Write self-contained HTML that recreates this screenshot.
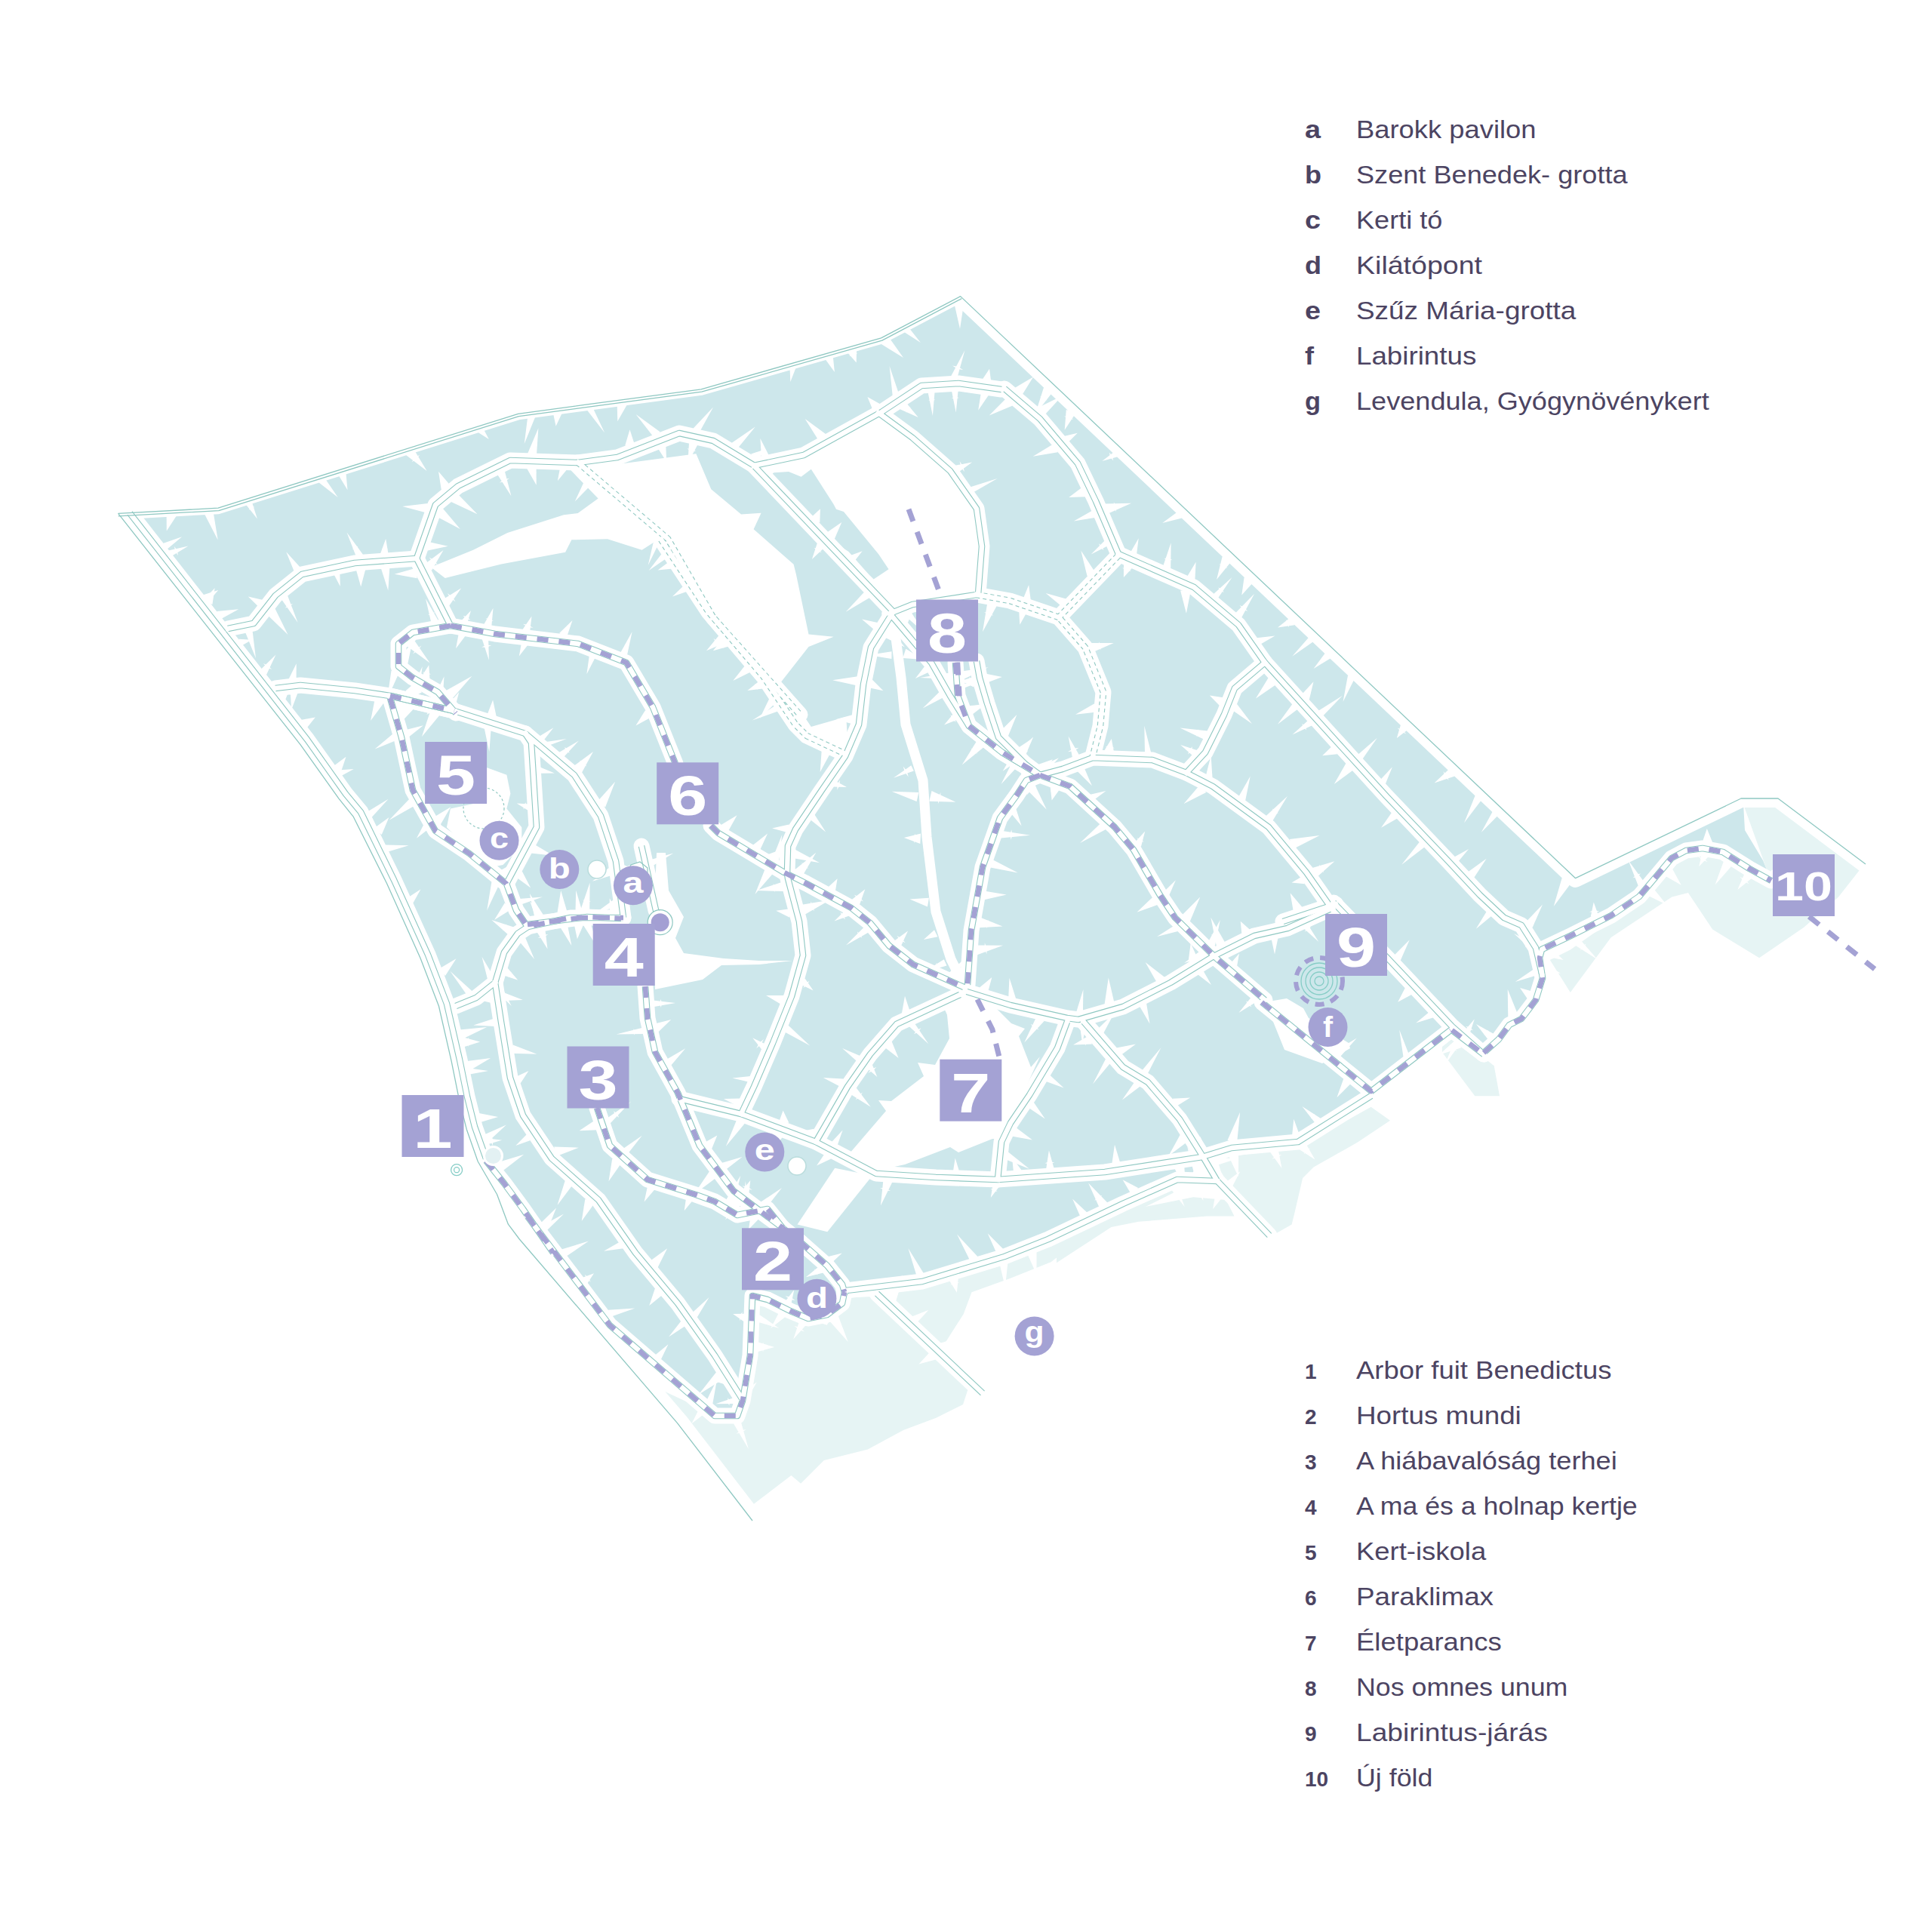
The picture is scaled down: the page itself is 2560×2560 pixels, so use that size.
<!DOCTYPE html><html><head><meta charset="utf-8"><style>html,body{margin:0;padding:0;background:#fff;}svg{display:block}</style></head><body><svg xmlns="http://www.w3.org/2000/svg" width="2560" height="2560" viewBox="0 0 2560 2560">
<rect width="2560" height="2560" fill="#fff"/>
<polygon points="878.1,1842.6 994.0,1996.6 1048.4,1954.9 1061.1,1965.8 1091.9,1935.0 1149.9,1920.5 1197.0,1895.1 1240.4,1878.8 1280.3,1858.9 1290.0,1848.0 1158.0,1718.0 1120.9,1719.4 1095.5,1755.7 1062.9,1744.8 1012.2,1726.7 1001.3,1715.8 997.7,1835.4 983.2,1871.6 954.2,1878.8 932.5,1868.0" fill="#e6f4f4"/>
<polygon points="1175.2,1715.8 1236.8,1777.4 1251.3,1781.0 1276.7,1741.2 1287.5,1712.2 1338.3,1694.1 1392.6,1672.3 1425.2,1647.0 1472.3,1621.6 1560.0,1578.1 1560.0,1560.0 1400.0,1626.0 1300.0,1662.0 1220.0,1692.0" fill="#e6f4f4"/>
<polygon points="1613.8,1535.5 1726.1,1517.4 1816.7,1466.7 1842.0,1484.8 1798.6,1513.8 1740.6,1546.4 1726.1,1560.9 1715.2,1608.0 1711.6,1622.5 1686.2,1637.0 1624.6,1575.4 1613.8,1539.0" fill="#e6f4f4"/>
<polygon points="1400.0,1629.7 1472.5,1608.0 1581.2,1586.2 1624.6,1589.9 1635.5,1611.6 1599.3,1611.6 1508.7,1618.8 1472.5,1626.1 1400.0,1673.2" fill="#e6f4f4"/>
<polygon points="1910.9,1387.0 1929.0,1372.5 1979.7,1412.3 1987.0,1452.2 1954.3,1452.2 1932.6,1423.2 1910.9,1394.2" fill="#e6f4f4"/>
<polygon points="2309.6,1064.6 2363.4,1060.6 2457.6,1140.0 2465.7,1150.7 2436.1,1188.4 2390.3,1228.8 2331.1,1269.2 2269.2,1231.5 2236.9,1183.0 2215.3,1188.4 2134.6,1242.3 2080.8,1314.9 2053.8,1271.9 2080.8,1258.4 2172.3,1193.8 2215.3,1140.0 2255.7,1129.2 2282.6,1131.9 2323.0,1156.1 2347.2,1169.6" fill="#e6f4f4"/>
<polygon points="156.6,680.4 289.1,673.2 686.6,548.3 780.0,535.7 929.0,515.8 1167.6,447.9 1272.6,392.6 2088.8,1164.7 2309.6,1057.1 2312.0,1100.0 2336.0,1140.0 2347.0,1167.0 2317.6,1150.7 2282.6,1129.2 2255.7,1123.8 2234.2,1126.5 2215.3,1137.3 2193.8,1161.5 2172.3,1188.4 2134.6,1212.7 2080.8,1239.6 2043.1,1258.4 2040.4,1269.2 2044.4,1296.1 2037.7,1331.1 2000.0,1358.0 1965.2,1390.6 1925.4,1361.6 1816.7,1448.6 1720.0,1513.0 1632.0,1521.0 1593.0,1531.0 1613.0,1565.5 1560.0,1563.0 1488.0,1595.0 1389.0,1642.0 1331.0,1665.0 1222.0,1698.0 1121.0,1710.0 1116.1,1726.7 1096.3,1741.6 1071.4,1746.6 1046.6,1736.6 1016.8,1721.7 996.9,1716.8 994.4,1796.3 984.5,1855.9 977.0,1875.8 947.2,1875.8 808.1,1756.5 698.8,1612.4 668.4,1567.6 643.6,1537.8 633.2,1539.0 618.2,1496.2 608.1,1455.7 598.1,1405.9 581.4,1333.0 557.0,1269.5 512.5,1170.5 468.0,1081.8 448.9,1058.1 398.0,986.7" fill="#cde7eb"/>
<polygon points="998.0,617.0 1064.9,602.6 1167.6,545.6 1209.1,579.5 1258.8,624.2 1293.5,673.9 1301.0,723.6 1296.0,788.2 1217.0,792.3 1184.1,810.6" fill="#fff"/>
<polygon points="780.0,620.2 922.4,601.3 942.3,648.3 982.1,681.4 1008.6,679.8 998.6,701.3 1051.6,747.7 1054.9,761.0 1071.5,840.5 1104.6,843.8 1071.5,857.0 1035.1,903.4 1074.8,963.0 1121.2,949.8 1124.5,1002.8 1071.5,976.3 1011.9,896.8 939.0,810.6 876.1,714.6 780.0,625.1" fill="#fff"/>
<polygon points="571.0,751.5 627.0,728.7 672.5,706.0 747.0,682.2 765.7,680.0 792.6,660.4 755.3,622.1 766.0,614.0 817.0,607.0 890.0,700.0 865.0,719.4 850.6,728.7 805.0,714.2 757.4,715.3 749.1,731.8 664.2,747.4 589.7,766.0" fill="#fff"/>
<polygon points="1267.0,1321.0 1295.0,1323.0 1320.0,1336.0 1340.0,1356.0 1358.0,1363.0 1350.0,1373.0 1366.0,1414.0 1378.0,1400.0 1328.0,1509.0 1315.0,1509.0 1270.0,1527.0 1259.0,1520.0 1199.0,1543.0 1153.0,1553.0 1126.0,1528.0 1174.0,1472.0 1164.0,1458.0 1181.0,1459.0 1224.0,1426.0 1216.0,1408.0 1239.0,1411.0 1258.0,1376.0 1255.0,1345.0" fill="#fff"/>
<polygon points="1056.5,1622.4 1106.2,1547.8 1155.9,1557.8 1096.3,1632.3" fill="#fff"/>
<polygon points="868.0,1311.0 931.0,1298.0 956.0,1279.0 1006.0,1278.0 1050.0,1273.0 1006.0,1273.0 959.0,1270.0 906.0,1263.0 895.0,1243.0 906.0,1215.0 886.0,1180.0 882.0,1130.0 870.0,1130.0 866.0,1230.0" fill="#fff"/>
<polygon points="644.1,1016.8 671.4,1026.7 676.4,1051.6 671.4,1071.4 691.3,1096.3 691.3,1121.1 666.5,1146.0 641.6,1150.9 616.8,1121.1 591.9,1096.3 596.9,1071.4 644.1,1061.5" fill="#fff"/>
<polygon points="1681.0,1327.0 1705.0,1323.0 1727.0,1336.0 1734.0,1349.0 1787.0,1382.0 1789.0,1389.0 1772.0,1399.0 1752.0,1409.0 1702.0,1391.0 1677.0,1329.0" fill="#fff"/>
<polygon points="1018.5,626.8 1045.0,625.1 1061.6,631.8 1074.8,621.8 1104.6,668.2 1108.0,674.8 1117.9,678.1 1164.3,734.5 1177.5,754.3 1157.6,767.6 1151.0,761.0 1124.5,731.1 1104.6,717.9 1051.6,658.3 1031.8,645.0" fill="#cde7eb"/>
<path d="M156.6,680.4 L289.1,673.2 L686.6,548.3 L780.0,535.7 L929.0,515.8 L1167.6,447.9 L1272.6,392.6" fill="none" stroke="#fff" stroke-width="16" stroke-linejoin="round"/>
<path d="M1272.6,392.6 L2087.6,1163.7 L2307.0,1058.0 L2356.0,1058.0 L2472.0,1145.0" fill="none" stroke="#fff" stroke-width="24" stroke-linejoin="round"/>
<path d="M156.6,680.4 L398.0,986.7 L448.9,1058.1 L468.0,1081.8 L512.5,1170.5 L557.0,1269.5 L581.4,1333.0 L598.1,1405.9 L608.1,1455.7 L618.2,1496.2 L633.2,1539.0 L658.5,1582.5 L673.4,1622.2 L688.3,1642.0 L897.5,1885.7 L997.0,2015.0" fill="none" stroke="#fff" stroke-width="30" stroke-linejoin="round"/>
<g fill="#fff"><polygon points="200.6,730.8 208.0,739.2 177.0,758.8"/><polygon points="220.1,728.7 215.3,720.3 241.1,711.2"/><polygon points="235.2,772.1 238.7,781.3 206.1,788.3"/><polygon points="224.7,781.3 227.5,780.2 224.3,775.9"/><polygon points="224.7,781.3 227.5,780.2 227.9,785.6"/><polygon points="258.4,804.9 265.5,812.4 235.5,833.5"/><polygon points="281.4,801.1 269.3,795.2 284.6,779.3"/><polygon points="283.6,837.2 291.7,845.8 274.8,853.7"/><polygon points="333.1,897.7 337.1,906.3 318.0,909.9"/><polygon points="327.7,905.4 330.5,904.1 327.3,900.9"/><polygon points="327.7,905.4 330.5,904.1 330.9,908.6"/><polygon points="352.8,894.6 344.1,888.4 365.5,867.5"/><polygon points="355.3,881.9 353.5,884.3 360.1,887.1"/><polygon points="355.3,881.9 353.5,884.3 348.8,879.1"/><polygon points="378.2,926.9 370.3,921.9 388.1,902.3"/><polygon points="379.9,915.4 378.3,917.9 385.8,920.9"/><polygon points="379.9,915.4 378.3,917.9 372.4,912.5"/><polygon points="385.2,967.2 392.1,973.4 363.8,998.1"/><polygon points="405.6,965.8 398.4,953.9 417.8,950.4"/><polygon points="408.8,955.8 406.3,957.3 410.1,960.9"/><polygon points="408.8,955.8 406.3,957.3 405.0,952.2"/><polygon points="414.7,1006.7 420.6,1012.8 401.1,1025.9"/><polygon points="410.8,1016.4 412.9,1014.4 407.5,1010.9"/><polygon points="410.8,1016.4 412.9,1014.4 416.3,1019.9"/><polygon points="430.7,1029.6 439.9,1039.8 415.3,1052.6"/><polygon points="450.5,1029.1 447.9,1020.6 468.8,1019.1"/><polygon points="452.3,1060.6 462.2,1068.1 444.8,1080.7"/><polygon points="473.4,1081.8 474.5,1092.3 443.7,1090.4"/><polygon points="461.9,1088.4 464.8,1088.1 462.9,1084.1"/><polygon points="461.9,1088.4 464.8,1088.1 463.8,1092.4"/><polygon points="492.3,1083.3 486.2,1075.9 514.6,1058.7"/><polygon points="492.2,1126.9 499.5,1136.8 479.6,1143.9"/><polygon points="489.0,1137.0 491.4,1135.2 487.2,1132.2"/><polygon points="489.0,1137.0 491.4,1135.2 493.1,1140.0"/><polygon points="511.8,1129.2 510.5,1119.6 541.6,1120.2"/><polygon points="547.4,1196.6 539.9,1189.7 557.5,1178.3"/><polygon points="571.5,1293.3 570.7,1305.4 539.4,1297.3"/><polygon points="595.7,1380.6 596.0,1388.7 556.8,1386.4"/><polygon points="612.5,1387.9 612.3,1373.9 636.1,1380.4"/><polygon points="622.2,1380.7 619.2,1380.8 620.8,1386.9"/><polygon points="622.2,1380.7 619.2,1380.8 620.6,1374.5"/><polygon points="603.7,1409.9 601.8,1422.0 569.5,1410.6"/><polygon points="621.6,1418.9 617.2,1406.2 650.1,1401.9"/><polygon points="608.8,1438.1 608.1,1449.5 571.8,1441.6"/><polygon points="617.4,1479.4 619.2,1491.1 600.6,1487.9"/><polygon points="635.0,1487.4 634.6,1474.9 660.1,1480.1"/><polygon points="627.3,1508.0 627.8,1520.5 609.6,1514.9"/><polygon points="619.8,1514.5 622.8,1514.4 621.0,1508.1"/><polygon points="619.8,1514.5 622.8,1514.4 621.5,1520.9"/><polygon points="646.6,1513.1 640.5,1503.9 670.9,1490.4"/><polygon points="324.8,837.3 334.4,834.7 339.0,872.2"/><polygon points="353.7,814.2 364.5,806.4 381.5,840.9"/><polygon points="348.4,795.0 343.1,804.6 328.8,790.6"/><polygon points="372.2,792.9 380.8,788.4 394.6,825.0"/><polygon points="383.5,804.0 382.1,801.4 377.7,805.4"/><polygon points="383.5,804.0 382.1,801.4 388.0,800.0"/><polygon points="398.3,752.2 389.9,757.5 379.2,731.3"/><polygon points="442.3,760.8 450.3,758.7 450.8,777.0"/><polygon points="471.6,754.0 484.4,753.9 478.2,777.4"/><polygon points="478.1,763.6 478.1,760.6 473.5,762.2"/><polygon points="478.1,763.6 478.1,760.6 482.6,762.1"/><polygon points="480.9,734.7 472.6,739.2 459.5,705.5"/><polygon points="470.0,724.6 471.5,727.3 474.4,723.9"/><polygon points="470.0,724.6 471.5,727.3 467.1,728.0"/><polygon points="504.6,752.3 516.4,750.8 514.3,782.4"/><polygon points="514.7,735.1 503.9,734.1 511.2,713.9"/><polygon points="510.1,725.9 509.8,728.9 514.0,727.7"/><polygon points="510.1,725.9 509.8,728.9 505.9,727.0"/><polygon points="566.8,729.5 566.8,717.7 593.7,723.8"/><polygon points="578.2,684.3 586.8,673.7 609.8,701.1"/><polygon points="566.9,666.9 566.0,679.8 533.2,670.9"/><polygon points="597.8,665.0 605.8,653.7 632.5,681.2"/><polygon points="597.0,643.5 584.8,649.1 581.0,624.8"/><polygon points="658.5,627.8 668.6,623.4 677.4,657.2"/><polygon points="669.0,638.0 667.8,635.3 661.8,639.6"/><polygon points="669.0,638.0 667.8,635.3 675.0,633.7"/><polygon points="698.3,621.1 710.6,617.8 710.7,642.7"/><polygon points="707.0,629.0 706.2,626.1 702.2,628.8"/><polygon points="707.0,629.0 706.2,626.1 711.1,626.4"/><polygon points="710.9,603.9 699.1,601.1 713.4,567.3"/><polygon points="742.3,618.9 750.7,622.8 738.8,637.2"/><polygon points="785.7,618.1 798.8,618.0 792.5,646.6"/><polygon points="841.3,590.3 828.2,590.4 834.5,569.3"/><polygon points="871.6,593.8 882.3,590.4 883.2,612.0"/><polygon points="874.6,572.3 866.9,580.3 842.6,548.9"/><polygon points="913.1,585.3 924.8,588.6 911.4,613.7"/><polygon points="915.9,597.7 916.7,594.8 910.4,594.6"/><polygon points="915.9,597.7 916.7,594.8 922.2,597.9"/><polygon points="926.5,573.2 918.7,567.5 945.1,539.5"/><polygon points="976.7,595.0 969.4,587.0 1000.8,565.6"/><polygon points="1002.9,611.8 995.2,601.6 1014.3,595.2"/><polygon points="1005.6,601.8 1003.2,603.6 1007.3,606.5"/><polygon points="1005.6,601.8 1003.2,603.6 1001.5,598.9"/><polygon points="1019.0,603.8 1008.9,606.5 1007.4,581.0"/><polygon points="1091.8,597.0 1103.9,592.1 1108.5,621.2"/><polygon points="1094.3,575.3 1084.9,584.0 1066.7,554.9"/><polygon points="1165.1,559.3 1174.7,550.1 1197.4,583.7"/><polygon points="1180.5,565.9 1178.5,563.7 1175.9,568.2"/><polygon points="1180.5,565.9 1178.5,563.7 1183.1,561.4"/><polygon points="1166.5,535.5 1156.8,544.1 1149.5,526.0"/><polygon points="1192.6,542.3 1200.0,532.7 1216.7,553.1"/><polygon points="1204.6,543.9 1202.2,542.0 1200.5,546.8"/><polygon points="1204.6,543.9 1202.2,542.0 1206.3,539.1"/><polygon points="1191.2,522.4 1182.7,524.2 1178.6,485.0"/><polygon points="1229.4,519.0 1238.6,518.5 1235.9,551.1"/><polygon points="1234.8,531.6 1234.6,528.6 1230.3,530.3"/><polygon points="1234.8,531.6 1234.6,528.6 1239.1,529.8"/><polygon points="1260.8,517.0 1269.7,516.6 1266.7,546.4"/><polygon points="1265.8,528.7 1265.7,525.7 1260.9,527.4"/><polygon points="1265.8,528.7 1265.7,525.7 1270.6,526.9"/><polygon points="1268.2,501.4 1260.2,498.2 1278.4,464.3"/><polygon points="1269.7,486.0 1268.6,488.8 1276.4,490.3"/><polygon points="1269.7,486.0 1268.6,488.8 1261.9,484.5"/><polygon points="1300.0,519.5 1310.0,523.5 1296.2,543.7"/><polygon points="1313.3,506.1 1301.4,503.3 1311.1,488.8"/><polygon points="1334.3,526.7 1341.7,537.6 1310.7,550.6"/><polygon points="1353.9,524.1 1344.2,514.2 1369.1,499.5"/><polygon points="1383.6,550.4 1375.8,540.1 1407.4,524.4"/><polygon points="1397.1,587.4 1401.5,599.2 1368.7,604.8"/><polygon points="1414.7,586.7 1409.8,577.9 1427.8,573.7"/><polygon points="1434.5,645.3 1439.0,658.2 1416.3,658.9"/><polygon points="1448.3,676.1 1451.8,685.8 1422.9,690.6"/><polygon points="1467.2,681.0 1464.1,667.5 1499.1,666.7"/><polygon points="1478.8,671.3 1475.9,671.9 1478.8,677.9"/><polygon points="1478.8,671.3 1475.9,671.9 1475.9,665.3"/><polygon points="1464.1,716.1 1468.9,722.8 1445.7,734.4"/><polygon points="1458.0,725.5 1460.4,723.8 1456.0,720.2"/><polygon points="1458.0,725.5 1460.4,723.8 1462.4,729.1"/><polygon points="551.9,752.4 552.6,766.3 522.7,760.8"/><polygon points="572.1,755.8 562.7,747.5 587.5,728.9"/><polygon points="575.4,742.6 573.5,744.8 580.2,748.8"/><polygon points="575.4,742.6 573.5,744.8 568.6,738.6"/><polygon points="595.1,802.7 587.1,794.3 611.2,779.2"/><polygon points="599.2,790.7 597.1,792.8 603.5,797.3"/><polygon points="599.2,790.7 597.1,792.8 592.7,786.1"/><polygon points="580.7,822.3 571.6,825.9 564.0,793.2"/><polygon points="571.3,811.9 572.4,814.7 576.5,811.5"/><polygon points="571.3,811.9 572.4,814.7 567.3,815.1"/><polygon points="539.1,855.9 548.1,847.2 569.6,878.6"/><polygon points="553.7,862.1 551.6,859.9 547.0,866.5"/><polygon points="553.7,862.1 551.6,859.9 558.4,855.5"/><polygon points="518.5,888.8 528.6,891.8 513.0,926.5"/><polygon points="540.2,879.9 527.9,874.1 546.2,851.1"/><polygon points="552.1,908.0 558.9,917.4 526.5,933.3"/><polygon points="544.1,920.8 546.6,919.0 541.6,914.6"/><polygon points="544.1,920.8 546.6,919.0 549.1,925.2"/><polygon points="569.4,899.4 558.6,896.6 568.3,881.3"/><polygon points="565.9,890.7 565.1,893.6 571.1,893.6"/><polygon points="565.9,890.7 565.1,893.6 559.9,890.7"/><polygon points="577.7,927.7 585.5,936.1 565.2,947.1"/><polygon points="598.8,926.2 590.2,915.5 625.5,895.7"/><polygon points="608.0,838.6 616.7,842.4 604.1,859.3"/><polygon points="619.1,825.9 611.9,821.7 624.0,809.1"/><polygon points="619.2,817.4 617.7,820.0 623.4,821.5"/><polygon points="619.2,817.4 617.7,820.0 613.5,815.8"/><polygon points="638.8,846.9 647.1,845.5 647.9,874.8"/><polygon points="644.9,857.7 644.4,854.7 638.1,857.4"/><polygon points="644.9,857.7 644.4,854.7 651.3,855.0"/><polygon points="651.2,831.1 640.8,827.9 653.5,805.7"/><polygon points="649.1,819.7 648.2,822.6 653.8,822.8"/><polygon points="649.1,819.7 648.2,822.6 643.5,819.6"/><polygon points="691.1,851.4 699.1,855.0 687.8,869.4"/><polygon points="702.0,838.2 692.2,834.4 704.5,816.5"/><polygon points="700.2,828.0 699.2,830.8 706.5,831.9"/><polygon points="700.2,828.0 699.2,830.8 692.9,826.8"/><polygon points="750.7,845.1 741.1,839.1 758.5,821.9"/><polygon points="780.9,868.2 789.0,870.8 777.4,893.2"/><polygon points="830.8,869.1 821.7,865.7 837.6,837.0"/><polygon points="855.1,941.1 863.5,950.1 842.4,961.6"/><polygon points="384.8,916.8 394.5,918.3 386.1,940.6"/><polygon points="392.6,901.9 382.7,899.5 392.7,879.3"/><polygon points="496.8,925.9 508.8,931.1 491.1,955.0"/><polygon points="541.1,935.0 547.9,939.4 532.2,956.3"/><polygon points="554.1,922.4 542.7,918.9 559.7,883.1"/><polygon points="603.6,934.8 596.1,930.8 608.3,916.9"/><polygon points="641.8,965.3 650.7,964.8 648.3,996.2"/><polygon points="657.7,949.3 645.1,948.3 653.1,927.6"/><polygon points="533.5,933.7 543.9,938.0 528.2,961.6"/><polygon points="548.0,923.0 537.3,915.6 557.3,898.0"/><polygon points="570.5,941.5 582.2,947.9 558.9,976.2"/><polygon points="586.4,929.7 574.0,926.5 588.5,896.2"/><polygon points="713.8,992.8 711.8,984.7 750.9,979.0"/><polygon points="714.0,1024.7 715.6,1016.5 734.8,1024.4"/><polygon points="702.1,1065.5 699.5,1073.7 684.7,1064.5"/><polygon points="693.8,1067.3 696.6,1068.3 696.7,1063.2"/><polygon points="693.8,1067.3 696.6,1068.3 693.7,1072.4"/><polygon points="692.9,1112.7 688.0,1120.3 672.5,1104.9"/><polygon points="682.9,1111.6 685.4,1113.2 686.7,1108.5"/><polygon points="682.9,1111.6 685.4,1113.2 681.6,1116.4"/><polygon points="703.4,1130.6 707.5,1118.4 733.1,1133.7"/><polygon points="683.2,1161.8 691.8,1154.5 703.2,1176.5"/><polygon points="719.8,981.8 714.5,975.7 733.4,964.3"/><polygon points="745.9,1004.2 740.3,997.2 766.9,981.6"/><polygon points="752.6,993.1 750.2,994.9 754.7,998.1"/><polygon points="752.6,993.1 750.2,994.9 748.1,989.9"/><polygon points="770.7,1024.2 760.2,1015.1 786.0,996.1"/><polygon points="773.7,1010.3 771.7,1012.5 777.3,1015.4"/><polygon points="773.7,1010.3 771.7,1012.5 768.0,1007.4"/><polygon points="802.1,1069.6 791.0,1062.8 815.1,1035.7"/><polygon points="806.7,1150.0 811.8,1159.5 785.0,1167.8"/><polygon points="824.9,1158.7 827.3,1146.2 849.0,1156.8"/><polygon points="812.6,1192.5 817.1,1200.6 783.4,1213.8"/><polygon points="833.8,1198.8 829.6,1189.9 864.2,1179.0"/><polygon points="532.0,941.8 526.7,932.4 555.0,922.5"/><polygon points="539.6,931.2 537.0,932.7 542.3,938.9"/><polygon points="539.6,931.2 537.0,932.7 534.4,925.0"/><polygon points="520.5,972.5 525.6,980.8 496.7,992.6"/><polygon points="541.7,976.5 537.1,967.3 560.9,961.2"/><polygon points="542.6,1058.4 549.6,1067.4 515.6,1086.7"/><polygon points="561.2,1093.1 567.7,1098.6 552.0,1110.8"/><polygon points="583.9,1092.2 574.6,1083.1 597.3,1069.3"/><polygon points="651.4,1168.5 661.5,1171.7 645.2,1206.5"/><polygon points="670.3,1161.0 664.1,1152.8 695.7,1135.4"/><polygon points="668.7,1196.5 677.3,1205.1 655.0,1219.0"/><polygon points="689.8,1198.8 688.1,1190.9 718.9,1188.4"/><polygon points="720.3,1212.9 710.9,1218.8 702.3,1194.6"/><polygon points="760.6,1223.9 773.2,1225.1 764.9,1244.2"/><polygon points="771.3,1206.9 762.5,1208.1 763.2,1179.7"/><polygon points="806.1,1224.4 819.1,1224.6 812.1,1257.7"/><polygon points="812.4,1237.6 812.4,1234.6 804.6,1236.0"/><polygon points="812.4,1237.6 812.4,1234.6 820.2,1236.2"/><polygon points="817.1,1206.2 808.0,1208.8 807.7,1190.2"/><polygon points="625.8,1313.4 619.2,1319.2 596.4,1286.8"/><polygon points="656.7,1312.0 664.5,1306.4 677.7,1333.1"/><polygon points="654.1,1294.3 646.0,1297.6 638.5,1267.7"/><polygon points="666.1,1292.0 672.4,1282.6 686.3,1298.7"/><polygon points="676.5,1292.1 674.0,1290.4 672.9,1294.7"/><polygon points="676.5,1292.1 674.0,1290.4 677.5,1287.8"/><polygon points="687.3,1246.5 695.7,1241.4 708.1,1271.0"/><polygon points="680.8,1228.5 674.5,1239.6 651.4,1219.1"/><polygon points="667.2,1228.1 669.8,1229.5 670.9,1224.6"/><polygon points="667.2,1228.1 669.8,1229.5 666.1,1233.0"/><polygon points="651.1,1317.9 650.3,1328.8 616.8,1320.7"/><polygon points="666.6,1326.0 668.4,1315.6 692.9,1325.1"/><polygon points="654.9,1349.6 656.2,1360.1 627.2,1358.6"/><polygon points="677.3,1395.8 679.6,1384.5 711.4,1396.8"/><polygon points="689.6,1435.4 682.6,1427.3 700.4,1418.9"/><polygon points="699.0,1502.1 704.3,1510.4 683.3,1517.9"/><polygon points="736.4,1532.6 734.2,1519.6 766.8,1520.7"/><polygon points="748.9,1564.1 759.1,1569.4 738.5,1596.9"/><polygon points="775.3,1588.7 788.0,1593.9 770.7,1618.1"/><polygon points="777.3,1602.0 778.4,1599.3 773.2,1598.8"/><polygon points="777.3,1602.0 778.4,1599.3 782.4,1602.5"/><polygon points="822.7,1644.7 825.9,1654.3 800.1,1657.7"/><polygon points="871.3,1679.9 860.9,1671.2 884.1,1654.2"/><polygon points="868.0,1707.1 879.0,1714.8 860.3,1729.9"/><polygon points="903.0,1749.7 909.1,1756.3 886.0,1771.6"/><polygon points="923.4,1746.1 916.4,1740.3 939.6,1719.0"/><polygon points="949.4,1817.7 958.2,1827.5 925.8,1847.8"/><polygon points="973.9,1851.5 975.4,1859.9 948.3,1860.2"/><polygon points="964.0,1857.5 966.9,1857.0 964.6,1852.1"/><polygon points="964.0,1857.5 966.9,1857.0 966.3,1862.4"/><polygon points="992.5,1849.8 985.5,1843.5 1002.7,1831.5"/><polygon points="846.4,1142.1 847.8,1151.8 825.8,1149.9"/><polygon points="865.4,1147.1 861.9,1139.3 892.3,1130.4"/><polygon points="854.6,1180.0 856.2,1188.1 827.2,1189.6"/><polygon points="964.0,1103.1 954.2,1093.7 976.6,1080.2"/><polygon points="1006.5,1127.6 997.1,1120.2 1017.1,1104.5"/><polygon points="1013.9,1150.9 1024.3,1157.2 1000.4,1185.1"/><polygon points="1032.2,1140.5 1023.5,1138.3 1036.3,1105.8"/><polygon points="1063.4,1160.4 1053.7,1152.1 1081.3,1129.8"/><polygon points="1067.5,1145.9 1065.5,1148.2 1071.0,1150.9"/><polygon points="1067.5,1145.9 1065.5,1148.2 1062.0,1143.1"/><polygon points="1106.7,1181.8 1096.5,1176.3 1109.6,1164.2"/><polygon points="1120.3,1205.9 1125.1,1213.4 1105.5,1220.4"/><polygon points="1115.4,1214.2 1117.9,1212.6 1113.5,1208.4"/><polygon points="1115.4,1214.2 1117.9,1212.6 1119.9,1218.5"/><polygon points="1138.5,1200.1 1128.1,1192.6 1146.3,1178.2"/><polygon points="1138.7,1188.8 1137.0,1191.2 1144.1,1194.5"/><polygon points="1138.7,1188.8 1137.0,1191.2 1131.7,1185.6"/><polygon points="1145.9,1227.4 1151.6,1234.9 1121.0,1252.5"/><polygon points="1137.8,1239.5 1140.2,1237.7 1135.8,1234.5"/><polygon points="1137.8,1239.5 1140.2,1237.7 1142.2,1242.8"/><polygon points="1193.4,1254.4 1184.5,1247.1 1203.1,1233.5"/><polygon points="1194.9,1243.6 1193.0,1245.9 1199.6,1249.3"/><polygon points="1194.9,1243.6 1193.0,1245.9 1188.3,1240.1"/><polygon points="1264.0,1294.2 1257.7,1288.7 1283.8,1265.2"/><polygon points="1021.6,629.9 1016.8,621.8 1033.7,617.1"/><polygon points="1086.3,692.5 1073.6,686.7 1086.9,674.3"/><polygon points="1083.0,719.3 1092.5,725.4 1075.9,741.0"/><polygon points="1082.8,730.2 1084.4,727.6 1078.7,725.8"/><polygon points="1082.8,730.2 1084.4,727.6 1088.6,732.0"/><polygon points="1105.4,715.0 1094.7,706.2 1115.3,692.0"/><polygon points="1131.5,744.5 1125.6,736.4 1142.6,730.3"/><polygon points="1146.3,783.2 1153.1,791.5 1120.7,810.8"/><polygon points="1165.6,778.6 1158.5,772.6 1184.5,749.1"/><polygon points="1169.3,559.4 1175.2,567.8 1155.1,575.6"/><polygon points="1165.0,568.7 1167.5,566.9 1162.4,562.3"/><polygon points="1165.0,568.7 1167.5,566.9 1170.2,573.3"/><polygon points="1269.6,626.1 1265.5,616.8 1288.1,612.4"/><polygon points="1276.1,617.7 1273.4,618.9 1277.9,625.3"/><polygon points="1276.1,617.7 1273.4,618.9 1271.6,611.2"/><polygon points="1288.6,652.9 1285.3,645.4 1321.6,634.1"/><polygon points="1291.9,719.9 1292.8,730.9 1258.0,728.1"/><polygon points="1278.8,726.5 1281.8,726.2 1279.9,720.8"/><polygon points="1278.8,726.5 1281.8,726.2 1280.8,731.9"/><polygon points="1199.0,815.8 1206.3,809.6 1224.1,837.7"/><polygon points="1200.0,793.8 1192.6,800.0 1182.9,780.9"/><polygon points="1224.1,807.8 1233.2,805.4 1237.9,842.2"/><polygon points="1232.3,820.5 1231.5,817.6 1226.7,820.4"/><polygon points="1232.3,820.5 1231.5,817.6 1237.1,817.7"/><polygon points="1308.4,798.3 1320.9,802.5 1302.0,837.2"/><polygon points="1309.7,814.7 1310.7,811.9 1304.0,811.2"/><polygon points="1309.7,814.7 1310.7,811.9 1316.4,815.4"/><polygon points="1350.2,809.6 1360.2,812.0 1351.3,827.8"/><polygon points="1365.8,795.4 1355.5,794.0 1363.2,775.1"/><polygon points="1415.0,817.0 1406.8,811.2 1421.5,799.3"/><polygon points="1448.4,864.0 1445.9,852.0 1475.8,852.1"/><polygon points="1458.7,855.6 1455.7,856.2 1458.3,861.4"/><polygon points="1458.7,855.6 1455.7,856.2 1456.1,850.5"/><polygon points="1449.8,932.6 1453.4,943.6 1425.0,946.7"/><polygon points="1412.6,793.5 1407.1,803.8 1385.7,786.0"/><polygon points="1451.4,758.8 1440.6,763.5 1432.3,729.4"/><polygon points="1163.9,825.2 1159.0,835.0 1142.0,820.4"/><polygon points="1171.8,844.2 1179.9,834.0 1198.9,857.4"/><polygon points="1136.5,896.3 1136.1,908.5 1103.1,901.3"/><polygon points="1150.1,911.0 1155.7,900.6 1170.4,915.2"/><polygon points="1130.2,946.9 1130.2,959.4 1107.4,953.3"/><polygon points="1104.1,1042.6 1106.3,1034.4 1122.1,1043.1"/><polygon points="1112.5,1040.5 1109.6,1039.7 1109.3,1046.7"/><polygon points="1112.5,1040.5 1109.6,1039.7 1112.9,1033.5"/><polygon points="1072.4,1084.9 1079.1,1078.9 1094.2,1102.4"/><polygon points="1045.3,1092.5 1045.0,1103.5 1023.0,1097.4"/><polygon points="1034.2,1126.1 1036.2,1135.9 1002.7,1137.4"/><polygon points="1050.3,1136.9 1054.1,1126.1 1086.1,1143.3"/><polygon points="1037.1,1168.4 1039.0,1181.1 1002.5,1180.0"/><polygon points="1024.1,1176.8 1027.1,1176.3 1024.8,1171.1"/><polygon points="1024.1,1176.8 1027.1,1176.3 1026.4,1182.0"/><polygon points="1056.4,1173.9 1052.5,1166.9 1072.4,1160.6"/><polygon points="1048.3,1203.9 1046.3,1215.8 1028.3,1206.7"/><polygon points="1066.1,1212.1 1061.3,1199.0 1099.8,1192.4"/><polygon points="1077.8,1200.4 1074.9,1201.4 1078.7,1207.4"/><polygon points="1077.8,1200.4 1074.9,1201.4 1074.0,1194.5"/><polygon points="1060.1,1303.9 1066.6,1296.4 1077.6,1312.5"/><polygon points="1069.5,1305.5 1067.2,1303.5 1064.3,1309.1"/><polygon points="1069.5,1305.5 1067.2,1303.5 1072.4,1299.8"/><polygon points="1039.4,1319.1 1036.0,1331.4 1015.1,1319.0"/><polygon points="1038.1,1366.6 1044.1,1358.2 1073.2,1385.4"/><polygon points="1015.2,1383.9 1009.6,1391.0 997.2,1375.2"/><polygon points="1005.9,1382.2 1008.2,1384.1 1011.9,1377.1"/><polygon points="1005.9,1382.2 1008.2,1384.1 1002.2,1389.2"/><polygon points="994.3,1426.0 993.8,1434.1 970.3,1428.5"/><polygon points="981.0,1455.6 978.4,1466.2 958.9,1455.9"/><polygon points="1181.5,863.3 1181.4,873.0 1150.5,867.9"/><polygon points="1196.3,872.1 1200.3,859.7 1223.6,874.1"/><polygon points="1207.3,1014.3 1210.9,1021.5 1183.9,1030.8"/><polygon points="1198.9,1023.1 1201.6,1021.7 1196.7,1015.4"/><polygon points="1198.9,1023.1 1201.6,1021.7 1203.8,1029.4"/><polygon points="1217.3,1050.0 1214.6,1062.1 1181.7,1048.7"/><polygon points="1231.3,1061.7 1234.5,1048.1 1266.4,1062.7"/><polygon points="1246.1,1058.0 1243.2,1057.3 1242.9,1065.2"/><polygon points="1246.1,1058.0 1243.2,1057.3 1246.4,1050.1"/><polygon points="1220.1,1104.6 1219.3,1118.0 1197.8,1109.9"/><polygon points="1210.5,1110.7 1213.5,1110.9 1212.4,1104.5"/><polygon points="1210.5,1110.7 1213.5,1110.9 1211.6,1117.1"/><polygon points="1230.9,1189.7 1229.0,1201.4 1205.5,1191.6"/><polygon points="1238.0,1232.3 1242.5,1241.3 1223.9,1245.0"/><polygon points="1250.8,1271.2 1254.5,1279.5 1223.2,1288.6"/><polygon points="1241.0,1280.6 1243.7,1279.4 1240.5,1275.8"/><polygon points="1241.0,1280.6 1243.7,1279.4 1244.2,1284.2"/><polygon points="1202.9,825.2 1193.7,820.0 1217.9,788.1"/><polygon points="1218.9,848.4 1214.2,840.0 1234.2,834.2"/><polygon points="1225.7,882.2 1232.0,890.1 1212.9,898.9"/><polygon points="1245.3,916.2 1250.8,923.7 1222.6,938.4"/><polygon points="1263.9,916.9 1261.7,906.1 1293.3,905.5"/><polygon points="1284.1,948.0 1279.6,936.9 1306.7,932.3"/><polygon points="1339.4,1013.4 1346.1,1018.1 1326.6,1039.1"/><polygon points="1357.0,1005.1 1346.0,997.2 1369.2,976.6"/><polygon points="1358.5,991.4 1356.8,993.8 1362.4,996.0"/><polygon points="1358.5,991.4 1356.8,993.8 1352.9,989.1"/><polygon points="1367.0,1028.7 1376.0,1037.3 1355.4,1050.1"/><polygon points="1384.7,1023.8 1375.7,1013.1 1394.8,1006.2"/><polygon points="1258.4,891.5 1258.9,899.9 1218.9,898.0"/><polygon points="1277.2,899.7 1274.1,889.4 1309.5,884.3"/><polygon points="1265.9,942.4 1272.9,952.0 1251.1,960.6"/><polygon points="1261.8,952.8 1264.2,951.0 1259.3,946.9"/><polygon points="1261.8,952.8 1264.2,951.0 1266.6,956.9"/><polygon points="1287.6,947.2 1283.0,935.3 1305.6,933.4"/><polygon points="1294.7,981.0 1304.3,989.4 1274.7,1013.6"/><polygon points="1289.8,996.3 1291.8,994.0 1286.7,991.6"/><polygon points="1289.8,996.3 1291.8,994.0 1294.9,998.7"/><polygon points="1291.3,896.6 1290.3,910.5 1273.1,902.2"/><polygon points="1283.1,903.0 1286.1,903.2 1285.1,896.6"/><polygon points="1283.1,903.0 1286.1,903.2 1284.1,909.6"/><polygon points="1307.6,904.8 1306.6,892.8 1327.8,897.1"/><polygon points="1335.6,975.9 1325.4,969.1 1347.4,947.1"/><polygon points="1337.2,962.4 1335.6,964.9 1340.2,966.1"/><polygon points="1337.2,962.4 1335.6,964.9 1332.7,961.1"/><polygon points="1338.6,1004.8 1344.9,1010.8 1328.7,1021.7"/><polygon points="1359.3,1000.0 1348.3,991.5 1366.4,979.4"/><polygon points="1367.6,1030.6 1376.7,1035.8 1360.5,1053.6"/><polygon points="1367.3,1041.6 1368.8,1039.0 1362.4,1037.1"/><polygon points="1367.3,1041.6 1368.8,1039.0 1373.7,1043.6"/><polygon points="1385.5,1023.9 1379.1,1015.3 1403.0,1004.2"/><polygon points="776.1,633.5 785.6,640.1 761.7,664.6"/><polygon points="803.3,657.6 815.3,664.3 796.4,684.2"/><polygon points="804.1,670.4 805.6,667.8 798.9,665.8"/><polygon points="804.1,670.4 805.6,667.8 810.8,672.4"/><polygon points="824.3,650.0 816.4,646.0 832.2,625.0"/><polygon points="861.7,681.9 850.6,674.9 875.2,648.2"/><polygon points="867.3,712.1 875.4,715.0 858.7,748.9"/><polygon points="891.7,740.6 896.5,753.0 871.5,755.6"/><polygon points="909.1,773.1 914.8,782.3 890.9,790.6"/><polygon points="929.5,775.5 923.8,762.9 962.4,752.9"/><polygon points="955.4,818.3 947.5,806.7 978.7,794.1"/><polygon points="962.2,805.2 959.7,806.9 964.2,810.9"/><polygon points="962.2,805.2 959.7,806.9 957.7,801.2"/><polygon points="958.7,844.6 966.4,856.2 944.9,862.2"/><polygon points="955.1,855.4 957.6,853.7 953.3,850.0"/><polygon points="955.1,855.4 957.6,853.7 959.4,859.1"/><polygon points="1014.5,879.9 1003.9,874.6 1018.2,859.4"/><polygon points="1022.3,919.5 1032.3,926.7 1006.7,952.0"/><polygon points="877.0,733.5 883.1,739.8 859.6,756.1"/><polygon points="913.1,754.5 906.6,747.7 934.8,727.1"/><polygon points="953.6,840.8 961.5,851.2 936.0,862.3"/><polygon points="948.8,852.6 951.2,850.8 945.5,845.8"/><polygon points="948.8,852.6 951.2,850.8 954.5,857.6"/><polygon points="987.6,881.2 995.0,890.3 971.3,902.0"/><polygon points="1007.4,877.9 1001.1,871.6 1015.8,863.3"/><polygon points="1006.5,902.1 1010.8,912.4 990.4,914.9"/><polygon points="1000.9,910.5 1003.6,909.4 1000.5,905.8"/><polygon points="1000.9,910.5 1003.6,909.4 1004.0,914.0"/><polygon points="1027.6,934.7 1031.3,942.2 996.8,954.6"/><polygon points="1088.7,994.7 1100.2,998.0 1086.7,1023.0"/><polygon points="1107.6,984.2 1095.8,977.7 1115.1,956.4"/><polygon points="1489.0,746.7 1501.2,751.4 1488.9,765.1"/><polygon points="1492.4,756.1 1493.5,753.3 1487.2,752.4"/><polygon points="1492.4,756.1 1493.5,753.3 1498.6,756.9"/><polygon points="1506.0,734.9 1497.9,732.1 1508.7,713.3"/><polygon points="1551.2,753.7 1540.5,751.9 1551.6,719.3"/><polygon points="1548.1,739.6 1547.6,742.6 1553.4,742.0"/><polygon points="1548.1,739.6 1547.6,742.6 1542.3,740.1"/><polygon points="1564.1,782.6 1577.9,782.2 1571.9,812.7"/><polygon points="1583.4,768.6 1572.3,765.2 1584.6,744.7"/><polygon points="1613.3,793.4 1607.0,788.0 1632.5,765.0"/><polygon points="1619.0,780.6 1617.0,782.8 1621.7,785.0"/><polygon points="1619.0,780.6 1617.0,782.8 1614.2,778.4"/><polygon points="1644.5,819.4 1636.1,813.2 1662.1,786.8"/><polygon points="1648.8,804.8 1647.0,807.2 1653.3,810.0"/><polygon points="1648.8,804.8 1647.0,807.2 1642.5,802.0"/><polygon points="1668.3,854.7 1665.2,845.3 1689.5,842.6"/><polygon points="1681.2,897.2 1691.3,906.7 1664.0,925.4"/><polygon points="1713.1,931.9 1720.4,939.1 1692.9,959.7"/><polygon points="1734.8,927.0 1723.9,921.2 1740.5,903.2"/><polygon points="1734.0,915.4 1732.6,918.1 1737.2,918.8"/><polygon points="1734.0,915.4 1732.6,918.1 1729.3,914.7"/><polygon points="1734.2,953.7 1739.1,961.0 1712.4,973.5"/><polygon points="1726.9,963.8 1729.4,962.2 1725.3,958.7"/><polygon points="1726.9,963.8 1729.4,962.2 1731.1,967.4"/><polygon points="1752.2,949.5 1746.3,942.3 1778.8,921.8"/><polygon points="1766.6,987.3 1772.1,999.3 1752.2,1001.3"/><polygon points="1784.0,1010.5 1794.2,1019.5 1767.8,1039.1"/><polygon points="1804.9,1006.4 1798.4,1000.7 1824.8,977.7"/><polygon points="1835.7,1039.1 1828.1,1034.3 1844.9,1016.2"/><polygon points="1844.9,1075.4 1852.6,1083.8 1830.1,1096.8"/><polygon points="1881.8,1114.5 1888.8,1121.6 1857.2,1145.8"/><polygon points="1931.5,1142.4 1926.2,1135.9 1946.1,1125.1"/><polygon points="1952.5,1164.0 1944.3,1156.1 1969.6,1137.7"/><polygon points="1970.4,1206.7 1977.5,1212.8 1955.8,1230.7"/><polygon points="2030.6,1228.9 2021.1,1222.5 2044.0,1198.4"/><polygon points="1622.5,924.6 1616.7,935.8 1602.8,921.5"/><polygon points="1631.8,940.2 1638.9,932.8 1658.9,959.0"/><polygon points="1600.4,968.6 1597.0,980.5 1563.5,964.6"/><polygon points="1585.0,970.7 1587.8,971.5 1587.8,966.3"/><polygon points="1585.0,970.7 1587.8,971.5 1585.0,975.9"/><polygon points="1586.5,994.3 1581.7,1002.5 1564.2,986.9"/><polygon points="1575.8,993.6 1578.4,995.1 1580.1,989.2"/><polygon points="1575.8,993.6 1578.4,995.1 1574.2,999.5"/><polygon points="1393.3,1030.7 1401.6,1030.6 1397.7,1052.8"/><polygon points="1427.6,1022.0 1436.1,1016.3 1447.0,1041.3"/><polygon points="1430.6,1001.5 1421.2,1005.0 1415.6,975.5"/><polygon points="1421.8,992.1 1422.8,994.9 1429.6,990.8"/><polygon points="1421.8,992.1 1422.8,994.9 1415.0,996.2"/><polygon points="1476.2,997.5 1463.0,995.1 1472.8,978.9"/><polygon points="1471.0,988.7 1470.5,991.7 1476.9,991.3"/><polygon points="1471.0,988.7 1470.5,991.7 1464.6,989.1"/><polygon points="1525.3,997.7 1517.0,998.8 1516.3,961.7"/><polygon points="1590.1,1039.8 1598.2,1050.1 1568.6,1064.9"/><polygon points="1606.5,1030.3 1597.4,1029.4 1604.6,1001.3"/><polygon points="1650.1,1061.1 1640.2,1057.5 1656.7,1028.5"/><polygon points="1685.5,1089.1 1676.6,1081.9 1705.9,1055.0"/><polygon points="1690.7,1073.7 1688.8,1076.0 1693.8,1078.1"/><polygon points="1690.7,1073.7 1688.8,1076.0 1685.7,1071.5"/><polygon points="1712.9,1125.2 1708.9,1112.1 1748.6,1107.0"/><polygon points="1726.4,1160.7 1728.8,1171.3 1711.5,1169.6"/><polygon points="1744.9,1162.2 1738.2,1150.3 1768.4,1141.3"/><polygon points="1752.2,1150.3 1749.6,1151.7 1753.9,1156.3"/><polygon points="1752.2,1150.3 1749.6,1151.7 1748.0,1145.7"/><polygon points="1746.3,1197.4 1757.6,1204.1 1742.4,1216.8"/><polygon points="1804.4,1243.5 1807.9,1253.3 1772.2,1260.5"/><polygon points="1855.4,1273.3 1846.2,1267.0 1867.8,1245.3"/><polygon points="1862.5,1307.7 1872.1,1317.0 1852.2,1327.8"/><polygon points="1861.0,1318.8 1863.1,1316.7 1858.7,1314.5"/><polygon points="1861.0,1318.8 1863.1,1316.7 1865.3,1321.0"/><polygon points="1895.0,1339.9 1899.5,1348.2 1876.2,1355.6"/><polygon points="1928.3,1376.4 1936.3,1380.8 1914.5,1411.1"/><polygon points="1925.3,1391.3 1926.8,1388.7 1921.5,1387.5"/><polygon points="1925.3,1391.3 1926.8,1388.7 1930.6,1392.5"/><polygon points="1721.6,1224.7 1728.9,1218.6 1747.3,1248.0"/><polygon points="1733.9,1232.0 1732.0,1229.7 1728.6,1234.5"/><polygon points="1733.9,1232.0 1732.0,1229.7 1737.3,1227.2"/><polygon points="1726.1,1202.7 1713.9,1208.3 1709.6,1183.2"/><polygon points="1391.6,1041.9 1404.6,1045.3 1393.7,1060.6"/><polygon points="1396.2,1051.0 1397.0,1048.1 1391.9,1048.4"/><polygon points="1396.2,1051.0 1397.0,1048.1 1401.2,1050.8"/><polygon points="1407.7,1031.2 1400.5,1024.2 1430.9,1000.2"/><polygon points="1448.5,1060.7 1444.8,1052.7 1465.4,1048.1"/><polygon points="1459.4,1090.0 1465.7,1098.7 1431.1,1117.0"/><polygon points="1512.0,1121.8 1503.1,1117.0 1517.2,1101.4"/><polygon points="1511.6,1111.8 1510.2,1114.4 1515.6,1115.6"/><polygon points="1511.6,1111.8 1510.2,1114.4 1506.3,1110.6"/><polygon points="1528.3,1187.9 1534.9,1198.6 1506.4,1208.8"/><polygon points="1549.2,1186.2 1542.3,1181.4 1557.9,1166.3"/><polygon points="1557.1,1225.7 1560.7,1233.9 1533.2,1241.0"/><polygon points="1576.5,1221.5 1565.1,1213.8 1590.3,1188.6"/><polygon points="1591.0,1259.4 1595.3,1267.5 1569.1,1276.0"/><polygon points="1610.0,1253.1 1600.2,1249.5 1616.8,1219.0"/><polygon points="1609.7,1238.6 1608.7,1241.4 1613.5,1241.6"/><polygon points="1609.7,1238.6 1608.7,1241.4 1604.8,1238.4"/><polygon points="1639.0,1280.4 1630.6,1276.4 1642.0,1263.6"/><polygon points="1658.7,1320.5 1664.7,1327.4 1641.4,1341.9"/><polygon points="1653.5,1331.2 1655.7,1329.3 1651.2,1326.3"/><polygon points="1653.5,1331.2 1655.7,1329.3 1658.1,1334.2"/><polygon points="1363.4,1023.1 1353.7,1027.7 1346.1,999.3"/><polygon points="1359.4,1045.0 1370.1,1037.5 1386.8,1072.8"/><polygon points="1338.6,1076.6 1346.5,1072.2 1353.6,1094.5"/><polygon points="1326.2,1110.4 1326.6,1100.7 1365.1,1106.8"/><polygon points="1341.4,1106.0 1338.5,1105.9 1339.7,1112.7"/><polygon points="1341.4,1106.0 1338.5,1105.9 1340.2,1099.2"/><polygon points="1311.0,1149.2 1314.6,1138.7 1348.8,1156.6"/><polygon points="1304.1,1192.3 1303.8,1180.5 1333.7,1185.5"/><polygon points="1296.4,1229.2 1298.6,1215.6 1328.5,1227.4"/><polygon points="1309.9,1224.4 1306.9,1223.9 1307.4,1229.9"/><polygon points="1309.9,1224.4 1306.9,1223.9 1309.3,1218.5"/><polygon points="1294.8,1265.2 1292.6,1252.6 1329.1,1252.8"/><polygon points="1307.6,1256.5 1304.6,1257.0 1307.4,1264.3"/><polygon points="1307.6,1256.5 1304.6,1257.0 1304.8,1249.3"/><polygon points="1293.4,1324.3 1303.3,1332.3 1278.0,1353.6"/><polygon points="1308.8,1315.5 1298.0,1308.6 1314.3,1295.0"/><polygon points="1346.1,1323.1 1336.1,1324.4 1337.5,1295.7"/><polygon points="1373.7,1346.4 1383.6,1353.0 1357.2,1381.5"/><polygon points="1370.3,1362.1 1372.0,1359.6 1365.6,1357.1"/><polygon points="1370.3,1362.1 1372.0,1359.6 1376.7,1364.6"/><polygon points="1430.7,1357.8 1439.8,1358.3 1434.0,1381.5"/><polygon points="1434.9,1342.4 1426.2,1341.0 1435.4,1311.1"/><polygon points="1476.8,1330.0 1463.6,1330.5 1468.8,1295.5"/><polygon points="1509.2,1332.0 1518.9,1328.6 1523.5,1356.5"/><polygon points="1543.1,1294.8 1533.5,1303.0 1517.6,1275.0"/><polygon points="1586.8,1290.9 1593.7,1284.9 1605.0,1304.9"/><polygon points="1588.0,1272.4 1574.6,1274.4 1577.7,1249.7"/><polygon points="1624.0,1250.3 1612.1,1254.7 1604.4,1215.8"/><polygon points="1657.2,1232.8 1645.5,1238.8 1643.7,1220.8"/><polygon points="1684.3,1242.6 1693.5,1242.6 1689.0,1264.6"/><polygon points="1251.0,1336.1 1261.9,1333.1 1265.5,1367.7"/><polygon points="1206.2,1341.4 1195.0,1342.2 1199.0,1319.8"/><polygon points="1204.6,1359.9 1210.9,1354.4 1230.3,1383.2"/><polygon points="1216.7,1367.4 1214.7,1365.1 1211.0,1370.3"/><polygon points="1216.7,1367.4 1214.7,1365.1 1220.4,1362.2"/><polygon points="1171.3,1387.0 1181.4,1379.4 1190.6,1402.1"/><polygon points="1140.7,1399.5 1136.0,1406.8 1116.1,1388.9"/><polygon points="1148.8,1415.3 1155.7,1410.5 1162.3,1427.1"/><polygon points="1156.6,1419.1 1154.9,1416.6 1150.2,1421.7"/><polygon points="1156.6,1419.1 1154.9,1416.6 1161.3,1414.0"/><polygon points="1117.6,1429.6 1114.5,1440.6 1090.8,1428.0"/><polygon points="1126.0,1449.2 1133.9,1440.5 1153.8,1466.8"/><polygon points="1139.4,1453.5 1137.2,1451.5 1133.7,1457.6"/><polygon points="1139.4,1453.5 1137.2,1451.5 1142.9,1447.5"/><polygon points="1078.6,1495.7 1077.7,1506.0 1060.5,1499.3"/><polygon points="1384.8,1432.6 1390.2,1423.7 1409.6,1441.6"/><polygon points="1362.1,1467.2 1369.3,1460.0 1384.7,1482.5"/><polygon points="1329.0,1487.1 1326.1,1497.2 1297.8,1483.6"/><polygon points="1340.3,1505.6 1345.5,1493.4 1368.0,1510.4"/><polygon points="1331.1,1535.7 1336.3,1526.8 1363.8,1548.8"/><polygon points="1443.6,1371.8 1447.0,1383.6 1422.1,1384.4"/><polygon points="1435.7,1380.5 1438.6,1379.6 1435.6,1374.6"/><polygon points="1435.7,1380.5 1438.6,1379.6 1438.7,1385.5"/><polygon points="1461.9,1369.4 1454.4,1363.8 1476.5,1341.9"/><polygon points="1465.4,1402.6 1472.4,1407.2 1448.0,1436.5"/><polygon points="1484.0,1399.1 1479.4,1388.5 1505.0,1383.6"/><polygon points="1504.2,1432.6 1511.1,1439.2 1486.9,1457.4"/><polygon points="1520.2,1423.8 1512.8,1418.9 1538.4,1388.2"/><polygon points="1557.3,1466.7 1553.9,1455.8 1577.1,1454.5"/><polygon points="1563.7,1503.8 1573.8,1512.5 1548.4,1531.6"/><polygon points="1589.4,1542.4 1596.0,1552.0 1576.6,1558.3"/><polygon points="1608.0,1545.4 1606.7,1531.8 1636.9,1536.0"/><polygon points="1611.1,1578.6 1622.2,1583.6 1607.1,1602.2"/><polygon points="1632.8,1572.6 1625.0,1566.1 1643.4,1552.0"/><polygon points="1666.0,1635.5 1677.7,1641.8 1660.8,1659.4"/><polygon points="710.6,1233.4 722.1,1229.4 725.5,1257.5"/><polygon points="720.1,1241.9 719.1,1239.1 712.7,1242.9"/><polygon points="720.1,1241.9 719.1,1239.1 726.4,1238.1"/><polygon points="719.9,1212.2 708.6,1216.8 701.8,1184.0"/><polygon points="742.7,1229.3 751.9,1225.6 757.4,1252.9"/><polygon points="752.1,1210.2 738.2,1211.0 743.2,1180.0"/><polygon points="744.4,1198.4 744.6,1201.4 749.3,1199.6"/><polygon points="744.4,1198.4 744.6,1201.4 739.6,1200.2"/><polygon points="772.8,1225.8 781.9,1221.5 794.0,1259.1"/><polygon points="781.2,1207.8 769.3,1205.8 781.6,1169.4"/><polygon points="777.7,1192.2 777.2,1195.2 782.8,1194.6"/><polygon points="777.7,1192.2 777.2,1195.2 772.1,1192.8"/><polygon points="865.3,1334.2 865.0,1325.6 895.1,1328.9"/><polygon points="877.1,1329.5 874.1,1329.6 875.8,1334.9"/><polygon points="877.1,1329.5 874.1,1329.6 875.5,1324.1"/><polygon points="852.5,1361.6 853.6,1369.9 816.6,1370.4"/><polygon points="838.8,1367.6 841.8,1367.2 839.8,1363.3"/><polygon points="838.8,1367.6 841.8,1367.2 840.8,1371.4"/><polygon points="872.5,1367.3 866.7,1356.8 889.3,1351.1"/><polygon points="888.9,1412.1 882.4,1404.3 908.2,1389.3"/><polygon points="942.9,1522.8 933.1,1514.2 950.3,1504.4"/><polygon points="940.3,1551.7 949.4,1560.3 919.2,1583.1"/><polygon points="960.9,1550.5 956.1,1541.1 983.4,1533.1"/><polygon points="973.1,1589.7 982.2,1596.2 961.0,1616.3"/><polygon points="992.4,1581.3 983.4,1577.5 994.3,1564.1"/><polygon points="990.8,1572.7 989.6,1575.4 996.8,1576.8"/><polygon points="990.8,1572.7 989.6,1575.4 983.5,1571.3"/><polygon points="995.1,1607.7 1007.0,1613.5 992.0,1629.1"/><polygon points="1014.9,1600.9 1007.6,1593.1 1036.0,1573.9"/><polygon points="787.8,1484.8 791.9,1497.3 767.6,1498.3"/><polygon points="808.6,1488.6 803.3,1482.5 836.2,1459.6"/><polygon points="817.7,1475.5 815.4,1477.5 820.2,1480.7"/><polygon points="817.7,1475.5 815.4,1477.5 812.9,1472.3"/><polygon points="811.2,1535.4 823.8,1540.5 806.5,1565.3"/><polygon points="832.0,1528.6 825.8,1522.1 850.7,1504.8"/><polygon points="858.2,1571.1 867.8,1575.8 853.6,1592.5"/><polygon points="909.1,1587.3 917.6,1591.1 906.7,1604.2"/><polygon points="971.7,1595.9 961.2,1591.6 981.3,1557.7"/><polygon points="972.2,1579.8 971.1,1582.5 977.7,1583.7"/><polygon points="972.2,1579.8 971.1,1582.5 965.6,1578.7"/><polygon points="991.9,1599.2 983.6,1599.2 987.9,1565.0"/><polygon points="987.8,1585.7 987.8,1588.7 995.0,1587.2"/><polygon points="987.8,1585.7 987.8,1588.7 980.6,1587.2"/><polygon points="976.9,1482.0 987.2,1488.2 961.8,1519.0"/><polygon points="1027.3,1502.1 1037.6,1505.8 1026.5,1520.3"/><polygon points="1045.4,1487.7 1031.5,1488.4 1037.6,1471.4"/><polygon points="1093.9,1527.1 1101.1,1535.4 1082.1,1544.6"/><polygon points="1109.3,1518.5 1101.5,1513.8 1116.6,1497.6"/><polygon points="1155.3,1539.9 1144.6,1539.3 1151.3,1519.1"/><polygon points="1170.5,1562.8 1182.4,1566.2 1166.9,1597.4"/><polygon points="1172.7,1577.4 1173.5,1574.6 1166.1,1574.0"/><polygon points="1172.7,1577.4 1173.5,1574.6 1180.1,1578.1"/><polygon points="1271.1,1552.2 1262.8,1552.8 1265.7,1534.4"/><polygon points="1315.6,1569.7 1323.5,1573.1 1312.8,1586.9"/><polygon points="1316.6,1578.2 1317.8,1575.5 1312.8,1574.9"/><polygon points="1316.6,1578.2 1317.8,1575.5 1321.5,1578.7"/><polygon points="1353.6,1550.6 1343.1,1554.6 1341.1,1533.9"/><polygon points="1396.9,1549.2 1386.0,1549.9 1389.9,1524.3"/><polygon points="1390.8,1539.2 1391.0,1542.2 1397.3,1540.3"/><polygon points="1390.8,1539.2 1391.0,1542.2 1384.4,1541.2"/><polygon points="1484.6,1541.7 1473.3,1542.5 1477.0,1516.7"/><polygon points="1556.2,1548.1 1569.2,1544.5 1571.5,1578.1"/><polygon points="1566.2,1558.9 1565.4,1556.0 1560.8,1558.8"/><polygon points="1566.2,1558.9 1565.4,1556.0 1570.7,1556.1"/><polygon points="1589.7,1541.1 1603.2,1540.5 1597.9,1573.6"/><polygon points="1597.0,1553.8 1596.9,1550.8 1591.4,1552.5"/><polygon points="1597.0,1553.8 1596.9,1550.8 1602.5,1552.1"/><polygon points="1598.4,1524.2 1584.6,1525.0 1590.4,1505.9"/><polygon points="1627.6,1530.8 1641.1,1527.9 1640.9,1559.2"/><polygon points="1639.1,1514.1 1626.5,1510.7 1643.1,1473.8"/><polygon points="1683.1,1526.7 1693.5,1522.1 1698.5,1548.0"/><polygon points="1692.5,1534.0 1691.3,1531.3 1685.3,1535.5"/><polygon points="1692.5,1534.0 1691.3,1531.3 1698.4,1529.8"/><polygon points="1721.9,1523.2 1730.3,1515.2 1742.4,1536.4"/><polygon points="1732.8,1526.3 1730.8,1524.2 1727.6,1529.2"/><polygon points="1732.8,1526.3 1730.8,1524.2 1736.0,1521.3"/><polygon points="1722.1,1504.2 1712.0,1505.4 1714.3,1482.7"/><polygon points="1750.5,1482.2 1743.7,1489.6 1725.4,1466.1"/><polygon points="1738.4,1478.0 1740.6,1480.0 1742.2,1476.0"/><polygon points="1738.4,1478.0 1740.6,1480.0 1736.8,1482.0"/><polygon points="664.8,1552.6 658.6,1540.5 694.2,1529.8"/><polygon points="723.7,1631.3 718.4,1624.1 747.1,1608.4"/><polygon points="720.5,1659.0 727.4,1664.7 704.1,1685.4"/><polygon points="716.0,1671.2 718.0,1668.9 712.7,1666.5"/><polygon points="716.0,1671.2 718.0,1668.9 721.3,1673.7"/><polygon points="725.6,1629.5 714.8,1622.3 737.1,1600.5"/><polygon points="748.8,1665.7 744.0,1655.4 780.0,1644.6"/><polygon points="758.5,1703.4 763.0,1711.9 726.0,1726.1"/><polygon points="777.7,1701.6 770.9,1693.2 787.0,1687.2"/><polygon points="779.9,1692.9 777.6,1694.8 782.7,1698.8"/><polygon points="779.9,1692.9 777.6,1694.8 774.7,1688.8"/><polygon points="790.8,1747.3 796.0,1754.3 779.4,1761.2"/><polygon points="808.0,1745.3 806.0,1735.8 841.3,1733.4"/><polygon points="811.3,1767.7 818.8,1778.9 793.8,1787.4"/><polygon points="834.8,1791.1 841.7,1795.6 816.2,1826.7"/><polygon points="855.3,1810.2 865.0,1814.3 852.6,1830.3"/><polygon points="875.3,1802.5 867.3,1796.3 885.5,1781.2"/><polygon points="925.4,1868.7 932.2,1874.3 916.5,1886.2"/><polygon points="944.3,1860.1 935.5,1857.2 950.0,1828.1"/><polygon points="972.1,1886.5 981.4,1882.5 991.9,1919.9"/><polygon points="982.6,1898.3 981.5,1895.5 975.5,1899.7"/><polygon points="982.6,1898.3 981.5,1895.5 988.6,1894.1"/><polygon points="980.0,1827.2 978.2,1839.9 941.9,1828.4"/><polygon points="964.6,1831.5 967.6,1831.9 966.7,1827.6"/><polygon points="964.6,1831.5 967.6,1831.9 965.5,1835.9"/><polygon points="1002.9,1791.4 1003.0,1777.9 1026.2,1785.0"/><polygon points="1012.6,1784.8 1009.6,1784.8 1011.0,1791.4"/><polygon points="1012.6,1784.8 1009.6,1784.8 1011.1,1778.2"/><polygon points="1002.3,1751.2 1006.5,1742.2 1032.3,1759.9"/><polygon points="989.0,1740.8 985.7,1751.3 971.2,1741.0"/><polygon points="980.3,1743.8 983.2,1744.7 983.6,1738.3"/><polygon points="980.3,1743.8 983.2,1744.7 979.9,1750.2"/><polygon points="991.8,1722.6 1001.3,1728.7 984.7,1744.1"/><polygon points="1032.8,1738.0 1040.8,1744.8 1021.3,1759.9"/><polygon points="1048.3,1728.0 1040.5,1724.4 1052.3,1709.1"/><polygon points="1047.8,1718.8 1046.5,1721.6 1053.8,1723.3"/><polygon points="1047.8,1718.8 1046.5,1721.6 1040.5,1717.2"/><polygon points="1059.2,1750.6 1068.0,1755.7 1051.2,1774.5"/><polygon points="1058.5,1761.9 1060.0,1759.3 1052.4,1756.7"/><polygon points="1058.5,1761.9 1060.0,1759.3 1066.1,1764.6"/><polygon points="1075.9,1737.8 1064.4,1737.1 1072.1,1704.6"/><polygon points="1098.6,1749.8 1110.4,1742.7 1123.7,1777.9"/><polygon points="1098.0,1729.2 1090.6,1736.2 1076.5,1713.9"/><polygon points="1047.6,1647.0 1055.5,1652.1 1034.5,1675.9"/><polygon points="1086.3,1677.2 1090.9,1686.4 1067.9,1692.3"/><polygon points="1080.0,1686.2 1082.7,1684.8 1079.3,1681.4"/><polygon points="1080.0,1686.2 1082.7,1684.8 1083.4,1689.6"/><polygon points="1102.1,1673.3 1097.6,1664.9 1115.7,1660.5"/><polygon points="1180.5,1711.0 1191.2,1710.7 1186.2,1727.2"/><polygon points="1224.2,1687.7 1215.0,1691.9 1203.4,1654.0"/><polygon points="1257.3,1695.7 1269.8,1692.8 1267.9,1712.8"/><polygon points="1265.4,1702.2 1264.7,1699.3 1259.0,1702.2"/><polygon points="1265.4,1702.2 1264.7,1699.3 1271.1,1699.4"/><polygon points="1295.4,1665.1 1285.9,1671.6 1268.1,1635.6"/><polygon points="1324.5,1674.5 1335.3,1673.9 1331.9,1705.7"/><polygon points="1329.3,1655.0 1320.7,1660.9 1308.7,1634.3"/><polygon points="1361.1,1661.0 1373.6,1658.4 1373.5,1688.8"/><polygon points="1440.8,1607.0 1432.0,1613.2 1421.1,1588.4"/><polygon points="1467.8,1594.1 1457.2,1601.3 1442.1,1567.6"/><polygon points="1454.5,1585.9 1456.2,1588.4 1460.5,1583.7"/><polygon points="1454.5,1585.9 1456.2,1588.4 1450.2,1590.7"/><polygon points="1508.1,1574.1 1499.4,1583.2 1487.6,1563.2"/><polygon points="1552.0,1576.3 1560.1,1571.9 1569.6,1599.1"/><polygon points="1584.0,1574.0 1592.7,1571.1 1594.4,1590.9"/><polygon points="1595.0,1553.0 1583.0,1558.2 1573.2,1519.2"/><polygon points="1731.1,1367.2 1726.7,1359.5 1752.7,1349.8"/><polygon points="1774.5,1401.8 1767.7,1393.6 1797.8,1375.6"/><polygon points="1780.7,1428.3 1790.9,1434.8 1771.4,1454.3"/><polygon points="1831.3,1447.8 1837.0,1439.2 1848.3,1453.1"/><polygon points="1867.4,1398.4 1859.5,1400.5 1854.2,1364.6"/><polygon points="1184.9,1721.8 1173.8,1715.6 1195.8,1689.6"/><polygon points="1185.8,1707.2 1184.4,1709.8 1189.2,1710.9"/><polygon points="1185.8,1707.2 1184.4,1709.8 1181.0,1706.2"/><polygon points="1214.4,1753.2 1208.3,1744.4 1230.5,1735.7"/><polygon points="1233.2,1790.5 1239.9,1801.4 1217.5,1807.6"/><polygon points="1250.0,1787.7 1246.4,1779.4 1283.6,1768.5"/><polygon points="1280.9,1812.0 1271.2,1807.7 1285.4,1788.6"/><polygon points="1282.4,1841.6 1294.1,1847.8 1270.6,1877.8"/><polygon points="1929.8,1377.0 1936.3,1388.2 1906.8,1397.7"/><polygon points="1922.6,1388.6 1925.2,1387.1 1921.4,1383.5"/><polygon points="1922.6,1388.6 1925.2,1387.1 1926.3,1392.2"/><polygon points="1947.0,1371.1 1939.7,1367.0 1953.8,1350.3"/><polygon points="1947.7,1361.2 1946.3,1363.8 1951.9,1365.2"/><polygon points="1947.7,1361.2 1946.3,1363.8 1942.1,1359.8"/><polygon points="1979.8,1370.2 1972.6,1378.6 1956.0,1357.0"/><polygon points="1968.0,1367.3 1970.3,1369.3 1972.0,1365.0"/><polygon points="1968.0,1367.3 1970.3,1369.3 1966.3,1371.6"/><polygon points="2007.8,1363.3 2017.1,1359.3 2023.6,1386.8"/><polygon points="2011.4,1344.7 1998.3,1347.4 1997.7,1310.7"/><polygon points="2042.7,1329.6 2045.7,1318.5 2072.0,1331.6"/><polygon points="2031.6,1313.9 2024.3,1324.1 2014.0,1308.9"/><polygon points="2049.9,1291.0 2052.3,1280.4 2067.8,1289.5"/><polygon points="2032.3,1284.2 2036.2,1292.2 2007.7,1301.0"/><polygon points="2047.8,1267.2 2054.0,1255.4 2071.7,1272.1"/><polygon points="2059.5,1265.8 2056.8,1264.4 2055.9,1269.4"/><polygon points="2059.5,1265.8 2056.8,1264.4 2060.4,1260.7"/><polygon points="2037.3,1252.9 2031.8,1260.8 2006.0,1237.1"/><polygon points="2023.3,1249.1 2025.8,1250.8 2028.4,1244.3"/><polygon points="2023.3,1249.1 2025.8,1250.8 2020.6,1255.5"/><polygon points="2083.9,1250.5 2091.2,1242.0 2116.6,1271.3"/><polygon points="2098.8,1256.0 2096.6,1254.0 2093.8,1259.5"/><polygon points="2098.8,1256.0 2096.6,1254.0 2101.6,1250.5"/><polygon points="2118.4,1214.1 2107.7,1214.8 2111.7,1195.5"/><polygon points="2112.5,1206.3 2112.7,1209.3 2119.3,1207.4"/><polygon points="2112.5,1206.3 2112.7,1209.3 2105.9,1208.3"/><polygon points="2184.3,1186.9 2191.5,1177.9 2208.5,1199.0"/><polygon points="2179.0,1169.2 2170.8,1173.7 2157.6,1139.9"/><polygon points="2168.1,1159.1 2169.6,1161.7 2174.0,1157.6"/><polygon points="2168.1,1159.1 2169.6,1161.7 2163.7,1163.2"/><polygon points="2205.7,1160.3 2215.6,1150.5 2227.7,1172.8"/><polygon points="2255.1,1131.0 2263.4,1135.5 2251.2,1148.2"/><polygon points="2255.7,1139.8 2257.1,1137.2 2250.1,1135.1"/><polygon points="2255.7,1139.8 2257.1,1137.2 2262.7,1141.9"/><polygon points="2269.2,1116.3 2255.4,1116.7 2261.8,1098.1"/><polygon points="2284.4,1140.1 2295.3,1146.6 2272.5,1172.5"/><polygon points="2312.0,1156.4 2321.4,1163.6 2302.3,1178.9"/><polygon points="2310.8,1167.8 2312.6,1165.4 2305.4,1161.8"/><polygon points="2310.8,1167.8 2312.6,1165.4 2317.9,1171.4"/><polygon points="2354.1,1164.2 2346.1,1153.9 2380.3,1135.5"/><polygon points="220.6,679.7 233.8,683.5 220.8,703.6"/><polygon points="270.8,680.8 282.4,677.0 288.7,715.5"/><polygon points="325.4,667.9 333.4,663.7 340.9,687.6"/><polygon points="334.1,674.7 332.7,672.1 329.6,675.4"/><polygon points="334.1,674.7 332.7,672.1 337.2,671.4"/><polygon points="422.0,639.0 429.3,632.1 447.7,659.1"/><polygon points="447.9,628.6 458.3,625.2 460.5,649.3"/><polygon points="538.0,603.1 547.7,594.3 565.6,624.0"/><polygon points="551.8,608.7 549.8,606.4 545.5,612.3"/><polygon points="551.8,608.7 549.8,606.4 556.1,602.8"/><polygon points="632.8,572.5 639.5,566.3 647.8,582.0"/><polygon points="699.5,549.7 709.3,552.2 694.7,588.3"/><polygon points="732.5,545.6 744.9,547.0 736.6,564.8"/><polygon points="777.4,542.8 784.7,538.4 801.2,573.6"/><polygon points="817.6,533.2 830.7,536.5 818.3,558.3"/><polygon points="1046.5,485.7 1054.7,487.1 1047.3,506.0"/><polygon points="1092.8,474.9 1103.6,470.8 1105.9,493.1"/><polygon points="1122.4,466.4 1135.1,461.8 1134.7,480.4"/><polygon points="1131.4,471.3 1130.3,468.4 1125.2,471.9"/><polygon points="1131.4,471.3 1130.3,468.4 1136.5,467.8"/><polygon points="1167.8,456.0 1177.2,446.0 1197.0,473.9"/><polygon points="1197.3,439.6 1203.3,433.0 1219.9,454.0"/><polygon points="1263.8,399.5 1277.6,399.0 1272.0,435.7"/><polygon points="1383.1,513.3 1394.8,519.6 1371.5,549.4"/><polygon points="1382.1,529.3 1383.5,526.7 1378.0,525.4"/><polygon points="1382.1,529.3 1383.5,526.7 1387.7,530.6"/><polygon points="1412.8,542.9 1425.5,547.2 1410.7,569.8"/><polygon points="1415.7,555.1 1416.7,552.3 1410.1,551.6"/><polygon points="1415.7,555.1 1416.7,552.3 1422.2,555.8"/><polygon points="1477.3,598.1 1480.8,605.3 1460.3,610.9"/><polygon points="1471.1,605.6 1473.8,604.2 1469.8,599.4"/><polygon points="1471.1,605.6 1473.8,604.2 1475.2,610.4"/><polygon points="1561.6,677.2 1566.0,686.6 1540.2,692.9"/><polygon points="1619.6,737.4 1631.9,743.5 1612.1,767.9"/><polygon points="1620.3,751.4 1621.6,748.7 1615.4,747.3"/><polygon points="1620.3,751.4 1621.6,748.7 1626.5,752.8"/><polygon points="1648.6,765.1 1661.2,771.1 1645.3,788.4"/><polygon points="1710.6,817.6 1715.2,828.3 1693.0,831.6"/><polygon points="1704.6,826.6 1707.3,825.4 1703.8,821.0"/><polygon points="1704.6,826.6 1707.3,825.4 1708.1,831.0"/><polygon points="1735.1,843.5 1740.8,849.8 1712.2,869.7"/><polygon points="1756.9,864.1 1763.9,871.8 1740.6,886.0"/><polygon points="1786.0,895.0 1795.4,898.2 1779.5,929.9"/><polygon points="1856.2,959.8 1865.9,966.5 1850.8,978.1"/><polygon points="1856.7,969.6 1858.3,967.2 1851.6,964.4"/><polygon points="1856.7,969.6 1858.3,967.2 1863.4,972.4"/><polygon points="1921.3,1017.9 1927.6,1028.4 1900.5,1037.4"/><polygon points="1914.8,1028.9 1917.4,1027.4 1912.5,1022.1"/><polygon points="1914.8,1028.9 1917.4,1027.4 1919.6,1034.1"/><polygon points="1954.9,1053.6 1964.0,1058.8 1940.1,1090.3"/><polygon points="1978.2,1074.6 1985.4,1080.0 1962.7,1103.0"/><polygon points="2069.7,1163.3 2082.2,1169.6 2058.7,1201.1"/><polygon points="226.4,737.5 223.2,729.6 249.5,723.4"/><polygon points="234.8,729.4 232.1,730.6 235.9,736.1"/><polygon points="234.8,729.4 232.1,730.6 231.0,724.0"/><polygon points="275.1,798.5 268.5,788.5 289.2,782.0"/><polygon points="290.8,821.2 287.4,809.9 316.2,807.2"/><polygon points="318.6,856.6 316.3,846.7 333.7,847.7"/><polygon points="377.3,924.7 367.7,919.0 391.5,889.9"/><polygon points="379.9,909.4 378.4,912.0 384.9,914.1"/><polygon points="379.9,909.4 378.4,912.0 373.4,907.3"/><polygon points="451.5,1023.7 440.8,1016.0 458.5,1002.8"/><polygon points="505.7,1106.1 495.2,1097.7 515.4,1083.1"/><polygon points="590.0,1292.9 581.3,1283.9 604.5,1270.2"/><polygon points="605.6,1342.4 599.7,1330.4 638.1,1319.1"/><polygon points="612.2,1376.9 608.8,1364.6 645.1,1361.0"/><polygon points="621.2,1423.7 621.1,1415.2 647.0,1419.1"/><polygon points="645.4,1516.4 644.7,1508.3 665.1,1510.7"/><polygon points="653.6,1511.7 650.6,1511.9 652.6,1518.1"/><polygon points="653.6,1511.7 650.6,1511.9 651.6,1505.5"/></g>
<g fill="none" stroke="#fff" stroke-width="21" stroke-linejoin="round" stroke-linecap="round"><path d="M172.0,680.0 L407.0,980.0 L458.0,1052.0 L478.0,1076.0 L522.0,1166.0 L567.0,1265.0 L592.0,1330.0 L609.0,1404.0 L619.0,1453.0 L629.0,1493.0 L644.0,1535.0"/><path d="M302.0,833.0 L336.0,826.0 L365.0,789.0 L400.0,761.0 L470.0,746.0 L552.0,740.0"/><path d="M552.0,740.0 L577.0,669.0 L607.0,644.0 L676.0,610.0 L766.0,613.0 L818.0,606.0 L900.0,574.0 L945.0,584.0 L998.0,616.0"/><path d="M999.0,617.0 L1065.0,603.0 L1168.0,546.0 L1221.0,511.0 L1270.0,508.0 L1327.0,516.0"/><path d="M1331.0,515.0 L1378.0,555.0 L1428.0,614.0 L1452.0,664.0 L1482.0,734.0"/><path d="M552.0,740.0 L597.0,829.0"/><path d="M597.0,829.0 L547.0,838.0 L528.0,853.0 L528.0,883.0 L547.0,898.0 L580.0,917.0 L604.0,945.0"/><path d="M597.0,829.0 L656.0,840.0 L766.0,853.0 L830.0,878.0 L865.0,937.0 L895.0,1012.0"/><path d="M365.0,912.0 L398.0,908.0 L470.0,915.0 L517.0,922.0 L602.0,942.0 L696.0,972.0"/><path d="M517.0,922.0 L602.0,942.0"/><path d="M696.0,972.0 L704.0,984.0 L711.0,1096.0 L671.0,1171.0"/><path d="M696.0,972.0 L761.0,1027.0 L796.0,1081.0 L816.0,1141.0 L826.0,1216.0"/><path d="M517.0,925.0 L532.0,977.0 L547.0,1047.0 L577.0,1101.0 L622.0,1131.0 L671.0,1171.0 L684.0,1206.0 L699.0,1228.0 L756.0,1216.0 L826.0,1216.0"/><path d="M604.0,1333.0 L631.0,1322.0 L656.0,1302.0"/><path d="M656.0,1302.0 L668.0,1262.0 L686.0,1237.0 L701.0,1227.0"/><path d="M656.0,1302.0 L664.0,1354.0 L676.0,1428.0 L693.0,1478.0 L731.0,1535.0 L793.0,1590.0 L842.0,1660.0 L898.0,1727.0 L947.0,1796.0 L983.0,1853.0"/><path d="M850.0,1121.0 L869.0,1206.0 L874.0,1214.0"/><path d="M942.0,1094.0 L952.0,1104.0 L1039.0,1156.0 L1069.0,1171.0 L1128.0,1203.0 L1153.0,1223.0 L1178.0,1253.0 L1210.0,1278.0 L1277.0,1308.0"/><path d="M1000.0,618.0 L1184.0,811.0"/><path d="M1164.0,547.0 L1209.0,580.0 L1259.0,624.0 L1294.0,674.0 L1301.0,724.0 L1296.0,788.0"/><path d="M1179.0,813.0 L1209.0,801.0 L1294.0,788.0"/><path d="M1294.0,788.0 L1338.0,796.0 L1403.0,818.0 L1438.0,858.0 L1462.0,917.0 L1458.0,962.0 L1448.0,1002.0"/><path d="M1403.0,818.0 L1482.0,736.0"/><path d="M1179.0,818.0 L1154.0,858.0 L1144.0,907.0 L1138.0,960.0 L1120.0,1002.0 L1089.0,1047.0 L1054.0,1099.0 L1044.0,1121.0 L1043.0,1156.0 L1044.0,1164.0 L1059.0,1221.0 L1064.0,1266.0 L1049.0,1320.0 L1024.0,1382.0 L999.0,1440.0 L982.0,1476.0"/><path d="M1179.0,813.0 L1234.0,878.0 L1259.0,922.0 L1284.0,962.0 L1328.0,997.0 L1378.0,1027.0"/><path d="M1266.0,878.0 L1269.0,922.0 L1284.0,962.0 L1328.0,997.0 L1378.0,1027.0"/><path d="M1294.0,876.0 L1298.0,898.0 L1308.0,932.0 L1323.0,977.0 L1358.0,1012.0 L1378.0,1027.0"/><path d="M766.0,613.0 L885.0,714.0 L945.0,818.0 L1060.0,947.0"/><path d="M876.0,715.0 L939.0,811.0 L1012.0,897.0 L1054.0,960.0 L1069.0,975.0 L1118.0,998.0"/><path d="M1482.0,734.0 L1582.0,778.0 L1641.0,828.0 L1676.0,878.0"/><path d="M1676.0,878.0 L1766.0,977.0 L1837.0,1055.0 L1919.0,1141.0 L1961.0,1186.0 L1993.0,1216.0 L2016.0,1226.0 L2035.0,1256.0 L2043.0,1290.0"/><path d="M1676.0,878.0 L1636.0,912.0 L1622.0,947.0 L1597.0,997.0 L1572.0,1024.0"/><path d="M1378.0,1027.0 L1408.0,1019.0 L1448.0,1004.0 L1527.0,1007.0 L1572.0,1024.0 L1607.0,1042.0 L1681.0,1096.0 L1731.0,1156.0 L1766.0,1206.0"/><path d="M1767.0,1196.0 L1839.0,1270.0 L1924.0,1360.0 L1966.0,1397.0"/><path d="M1700.0,1221.0 L1770.0,1198.0"/><path d="M1378.0,1027.0 L1418.0,1042.0 L1477.0,1096.0 L1502.0,1126.0 L1537.0,1186.0 L1557.0,1216.0 L1612.0,1270.0 L1676.0,1325.0"/><path d="M1378.0,1027.0 L1360.0,1034.0 L1347.0,1054.0 L1325.0,1084.0 L1302.0,1149.0 L1287.0,1233.0 L1282.0,1305.0"/><path d="M1281.0,1314.0 L1339.0,1332.0 L1414.0,1349.0 L1429.0,1351.0 L1488.0,1334.0 L1551.0,1302.0 L1608.0,1267.0 L1662.0,1240.0 L1706.0,1230.0 L1766.0,1203.0"/><path d="M1272.0,1318.0 L1188.0,1357.0 L1153.0,1397.0 L1123.0,1440.0 L1081.0,1513.0"/><path d="M1414.0,1354.0 L1401.0,1389.0 L1364.0,1451.0 L1339.0,1488.0 L1327.0,1513.0 L1322.0,1563.0"/><path d="M1436.0,1354.0 L1488.0,1414.0 L1521.0,1434.0 L1563.0,1483.0 L1593.0,1531.0 L1613.0,1565.0 L1682.0,1637.0"/><path d="M699.0,1225.0 L778.0,1215.0 L823.0,1217.0"/><path d="M855.0,1307.0 L858.0,1349.0 L868.0,1394.0 L898.0,1448.0 L927.0,1518.0 L972.0,1578.0 L1017.0,1612.0 L1037.0,1627.0"/><path d="M791.0,1468.0 L808.0,1518.0 L858.0,1563.0 L922.0,1583.0 L947.0,1592.0 L977.0,1610.0 L1017.0,1602.0 L1037.0,1627.0"/><path d="M900.0,1456.0 L982.0,1476.0 L1081.0,1513.0 L1161.0,1555.0 L1240.0,1560.0 L1322.0,1563.0 L1464.0,1553.0 L1593.0,1533.0 L1632.0,1521.0 L1720.0,1513.0 L1817.0,1452.0"/><path d="M644.0,1538.0 L668.0,1568.0 L693.0,1602.0 L733.0,1660.0"/><path d="M699.0,1612.0 L808.0,1756.0 L947.0,1876.0 L977.0,1876.0 L984.0,1856.0 L994.0,1796.0 L997.0,1717.0 L1017.0,1722.0 L1047.0,1737.0 L1071.0,1747.0 L1096.0,1742.0 L1116.0,1727.0 L1119.0,1712.0"/><path d="M1037.0,1627.0 L1062.0,1647.0 L1096.0,1677.0 L1116.0,1702.0 L1119.0,1712.0"/><path d="M1119.0,1714.0 L1121.0,1710.0 L1222.0,1698.0 L1331.0,1665.0 L1389.0,1642.0 L1488.0,1595.0 L1560.0,1563.0 L1613.0,1565.0"/><path d="M1672.0,1328.0 L1817.0,1446.0 L1922.0,1365.0"/><path d="M1162.0,1714.0 L1302.0,1846.0"/><path d="M1924.0,1365.0 L1966.0,1397.0"/><path d="M1966.0,1395.0 L1986.0,1377.0 L2000.0,1358.0 L2016.0,1350.0 L2035.0,1325.0 L2044.0,1296.0 L2040.0,1269.0 L2043.0,1258.0 L2081.0,1240.0 L2135.0,1213.0 L2172.0,1188.0 L2194.0,1162.0 L2215.0,1137.0 L2234.0,1127.0 L2256.0,1124.0 L2283.0,1129.0 L2318.0,1151.0 L2347.0,1167.0"/></g>
<g fill="none" stroke="#fff" stroke-width="13" stroke-linejoin="round" stroke-linecap="round"><path d="M1184.0,823.0 L1194.0,898.0 L1200.0,960.0 L1223.0,1034.0 L1228.0,1109.0 L1240.0,1208.0 L1260.0,1271.0 L1277.0,1305.0"/></g>
<g fill="none" stroke="#8fc8c2" stroke-width="8.6" stroke-linejoin="round" stroke-linecap="butt"><path d="M172.0,680.0 L407.0,980.0 L458.0,1052.0 L478.0,1076.0 L522.0,1166.0 L567.0,1265.0 L592.0,1330.0 L609.0,1404.0 L619.0,1453.0 L629.0,1493.0 L644.0,1535.0"/><path d="M302.0,833.0 L336.0,826.0 L365.0,789.0 L400.0,761.0 L470.0,746.0 L552.0,740.0"/><path d="M552.0,740.0 L577.0,669.0 L607.0,644.0 L676.0,610.0 L766.0,613.0 L818.0,606.0 L900.0,574.0 L945.0,584.0 L998.0,616.0"/><path d="M999.0,617.0 L1065.0,603.0 L1168.0,546.0 L1221.0,511.0 L1270.0,508.0 L1327.0,516.0"/><path d="M1331.0,515.0 L1378.0,555.0 L1428.0,614.0 L1452.0,664.0 L1482.0,734.0"/><path d="M552.0,740.0 L597.0,829.0"/><path d="M597.0,829.0 L547.0,838.0 L528.0,853.0 L528.0,883.0 L547.0,898.0 L580.0,917.0 L604.0,945.0"/><path d="M597.0,829.0 L656.0,840.0 L766.0,853.0 L830.0,878.0 L865.0,937.0 L895.0,1012.0"/><path d="M365.0,912.0 L398.0,908.0 L470.0,915.0 L517.0,922.0 L602.0,942.0 L696.0,972.0"/><path d="M517.0,922.0 L602.0,942.0"/><path d="M696.0,972.0 L704.0,984.0 L711.0,1096.0 L671.0,1171.0"/><path d="M696.0,972.0 L761.0,1027.0 L796.0,1081.0 L816.0,1141.0 L826.0,1216.0"/><path d="M517.0,925.0 L532.0,977.0 L547.0,1047.0 L577.0,1101.0 L622.0,1131.0 L671.0,1171.0 L684.0,1206.0 L699.0,1228.0 L756.0,1216.0 L826.0,1216.0"/><path d="M604.0,1333.0 L631.0,1322.0 L656.0,1302.0"/><path d="M656.0,1302.0 L668.0,1262.0 L686.0,1237.0 L701.0,1227.0"/><path d="M656.0,1302.0 L664.0,1354.0 L676.0,1428.0 L693.0,1478.0 L731.0,1535.0 L793.0,1590.0 L842.0,1660.0 L898.0,1727.0 L947.0,1796.0 L983.0,1853.0"/><path d="M850.0,1121.0 L869.0,1206.0 L874.0,1214.0"/><path d="M942.0,1094.0 L952.0,1104.0 L1039.0,1156.0 L1069.0,1171.0 L1128.0,1203.0 L1153.0,1223.0 L1178.0,1253.0 L1210.0,1278.0 L1277.0,1308.0"/><path d="M1000.0,618.0 L1184.0,811.0"/><path d="M1164.0,547.0 L1209.0,580.0 L1259.0,624.0 L1294.0,674.0 L1301.0,724.0 L1296.0,788.0"/><path d="M1179.0,813.0 L1209.0,801.0 L1294.0,788.0"/><path d="M1179.0,818.0 L1154.0,858.0 L1144.0,907.0 L1138.0,960.0 L1120.0,1002.0 L1089.0,1047.0 L1054.0,1099.0 L1044.0,1121.0 L1043.0,1156.0 L1044.0,1164.0 L1059.0,1221.0 L1064.0,1266.0 L1049.0,1320.0 L1024.0,1382.0 L999.0,1440.0 L982.0,1476.0"/><path d="M1179.0,813.0 L1234.0,878.0 L1259.0,922.0 L1284.0,962.0 L1328.0,997.0 L1378.0,1027.0"/><path d="M1266.0,878.0 L1269.0,922.0 L1284.0,962.0 L1328.0,997.0 L1378.0,1027.0"/><path d="M1294.0,876.0 L1298.0,898.0 L1308.0,932.0 L1323.0,977.0 L1358.0,1012.0 L1378.0,1027.0"/><path d="M1482.0,734.0 L1582.0,778.0 L1641.0,828.0 L1676.0,878.0"/><path d="M1676.0,878.0 L1766.0,977.0 L1837.0,1055.0 L1919.0,1141.0 L1961.0,1186.0 L1993.0,1216.0 L2016.0,1226.0 L2035.0,1256.0 L2043.0,1290.0"/><path d="M1676.0,878.0 L1636.0,912.0 L1622.0,947.0 L1597.0,997.0 L1572.0,1024.0"/><path d="M1378.0,1027.0 L1408.0,1019.0 L1448.0,1004.0 L1527.0,1007.0 L1572.0,1024.0 L1607.0,1042.0 L1681.0,1096.0 L1731.0,1156.0 L1766.0,1206.0"/><path d="M1767.0,1196.0 L1839.0,1270.0 L1924.0,1360.0 L1966.0,1397.0"/><path d="M1700.0,1221.0 L1770.0,1198.0"/><path d="M1378.0,1027.0 L1418.0,1042.0 L1477.0,1096.0 L1502.0,1126.0 L1537.0,1186.0 L1557.0,1216.0 L1612.0,1270.0 L1676.0,1325.0"/><path d="M1378.0,1027.0 L1360.0,1034.0 L1347.0,1054.0 L1325.0,1084.0 L1302.0,1149.0 L1287.0,1233.0 L1282.0,1305.0"/><path d="M1281.0,1314.0 L1339.0,1332.0 L1414.0,1349.0 L1429.0,1351.0 L1488.0,1334.0 L1551.0,1302.0 L1608.0,1267.0 L1662.0,1240.0 L1706.0,1230.0 L1766.0,1203.0"/><path d="M1272.0,1318.0 L1188.0,1357.0 L1153.0,1397.0 L1123.0,1440.0 L1081.0,1513.0"/><path d="M1414.0,1354.0 L1401.0,1389.0 L1364.0,1451.0 L1339.0,1488.0 L1327.0,1513.0 L1322.0,1563.0"/><path d="M1436.0,1354.0 L1488.0,1414.0 L1521.0,1434.0 L1563.0,1483.0 L1593.0,1531.0 L1613.0,1565.0 L1682.0,1637.0"/><path d="M699.0,1225.0 L778.0,1215.0 L823.0,1217.0"/><path d="M855.0,1307.0 L858.0,1349.0 L868.0,1394.0 L898.0,1448.0 L927.0,1518.0 L972.0,1578.0 L1017.0,1612.0 L1037.0,1627.0"/><path d="M791.0,1468.0 L808.0,1518.0 L858.0,1563.0 L922.0,1583.0 L947.0,1592.0 L977.0,1610.0 L1017.0,1602.0 L1037.0,1627.0"/><path d="M900.0,1456.0 L982.0,1476.0 L1081.0,1513.0 L1161.0,1555.0 L1240.0,1560.0 L1322.0,1563.0 L1464.0,1553.0 L1593.0,1533.0 L1632.0,1521.0 L1720.0,1513.0 L1817.0,1452.0"/><path d="M644.0,1538.0 L668.0,1568.0 L693.0,1602.0 L733.0,1660.0"/><path d="M699.0,1612.0 L808.0,1756.0 L947.0,1876.0 L977.0,1876.0 L984.0,1856.0 L994.0,1796.0 L997.0,1717.0 L1017.0,1722.0 L1047.0,1737.0 L1071.0,1747.0 L1096.0,1742.0 L1116.0,1727.0 L1119.0,1712.0"/><path d="M1037.0,1627.0 L1062.0,1647.0 L1096.0,1677.0 L1116.0,1702.0 L1119.0,1712.0"/><path d="M1119.0,1714.0 L1121.0,1710.0 L1222.0,1698.0 L1331.0,1665.0 L1389.0,1642.0 L1488.0,1595.0 L1560.0,1563.0 L1613.0,1565.0"/><path d="M1672.0,1328.0 L1817.0,1446.0 L1922.0,1365.0"/><path d="M1162.0,1714.0 L1302.0,1846.0"/><path d="M1924.0,1365.0 L1966.0,1397.0"/><path d="M1966.0,1395.0 L1986.0,1377.0 L2000.0,1358.0 L2016.0,1350.0 L2035.0,1325.0 L2044.0,1296.0 L2040.0,1269.0 L2043.0,1258.0 L2081.0,1240.0 L2135.0,1213.0 L2172.0,1188.0 L2194.0,1162.0 L2215.0,1137.0 L2234.0,1127.0 L2256.0,1124.0 L2283.0,1129.0 L2318.0,1151.0 L2347.0,1167.0"/></g>
<g fill="none" stroke="#8fc8c2" stroke-width="8.6" stroke-dasharray="5 4" stroke-linejoin="round"><path d="M1294.0,788.0 L1338.0,796.0 L1403.0,818.0 L1438.0,858.0 L1462.0,917.0 L1458.0,962.0 L1448.0,1002.0"/><path d="M1403.0,818.0 L1482.0,736.0"/><path d="M766.0,613.0 L885.0,714.0 L945.0,818.0 L1060.0,947.0"/><path d="M876.0,715.0 L939.0,811.0 L1012.0,897.0 L1054.0,960.0 L1069.0,975.0 L1118.0,998.0"/></g>
<g fill="none" stroke="#fff" stroke-width="6.4" stroke-linejoin="round" stroke-linecap="square"><path d="M172.0,680.0 L407.0,980.0 L458.0,1052.0 L478.0,1076.0 L522.0,1166.0 L567.0,1265.0 L592.0,1330.0 L609.0,1404.0 L619.0,1453.0 L629.0,1493.0 L644.0,1535.0"/><path d="M302.0,833.0 L336.0,826.0 L365.0,789.0 L400.0,761.0 L470.0,746.0 L552.0,740.0"/><path d="M552.0,740.0 L577.0,669.0 L607.0,644.0 L676.0,610.0 L766.0,613.0 L818.0,606.0 L900.0,574.0 L945.0,584.0 L998.0,616.0"/><path d="M999.0,617.0 L1065.0,603.0 L1168.0,546.0 L1221.0,511.0 L1270.0,508.0 L1327.0,516.0"/><path d="M1331.0,515.0 L1378.0,555.0 L1428.0,614.0 L1452.0,664.0 L1482.0,734.0"/><path d="M552.0,740.0 L597.0,829.0"/><path d="M597.0,829.0 L547.0,838.0 L528.0,853.0 L528.0,883.0 L547.0,898.0 L580.0,917.0 L604.0,945.0"/><path d="M597.0,829.0 L656.0,840.0 L766.0,853.0 L830.0,878.0 L865.0,937.0 L895.0,1012.0"/><path d="M365.0,912.0 L398.0,908.0 L470.0,915.0 L517.0,922.0 L602.0,942.0 L696.0,972.0"/><path d="M517.0,922.0 L602.0,942.0"/><path d="M696.0,972.0 L704.0,984.0 L711.0,1096.0 L671.0,1171.0"/><path d="M696.0,972.0 L761.0,1027.0 L796.0,1081.0 L816.0,1141.0 L826.0,1216.0"/><path d="M517.0,925.0 L532.0,977.0 L547.0,1047.0 L577.0,1101.0 L622.0,1131.0 L671.0,1171.0 L684.0,1206.0 L699.0,1228.0 L756.0,1216.0 L826.0,1216.0"/><path d="M604.0,1333.0 L631.0,1322.0 L656.0,1302.0"/><path d="M656.0,1302.0 L668.0,1262.0 L686.0,1237.0 L701.0,1227.0"/><path d="M656.0,1302.0 L664.0,1354.0 L676.0,1428.0 L693.0,1478.0 L731.0,1535.0 L793.0,1590.0 L842.0,1660.0 L898.0,1727.0 L947.0,1796.0 L983.0,1853.0"/><path d="M850.0,1121.0 L869.0,1206.0 L874.0,1214.0"/><path d="M942.0,1094.0 L952.0,1104.0 L1039.0,1156.0 L1069.0,1171.0 L1128.0,1203.0 L1153.0,1223.0 L1178.0,1253.0 L1210.0,1278.0 L1277.0,1308.0"/><path d="M1000.0,618.0 L1184.0,811.0"/><path d="M1164.0,547.0 L1209.0,580.0 L1259.0,624.0 L1294.0,674.0 L1301.0,724.0 L1296.0,788.0"/><path d="M1179.0,813.0 L1209.0,801.0 L1294.0,788.0"/><path d="M1179.0,818.0 L1154.0,858.0 L1144.0,907.0 L1138.0,960.0 L1120.0,1002.0 L1089.0,1047.0 L1054.0,1099.0 L1044.0,1121.0 L1043.0,1156.0 L1044.0,1164.0 L1059.0,1221.0 L1064.0,1266.0 L1049.0,1320.0 L1024.0,1382.0 L999.0,1440.0 L982.0,1476.0"/><path d="M1179.0,813.0 L1234.0,878.0 L1259.0,922.0 L1284.0,962.0 L1328.0,997.0 L1378.0,1027.0"/><path d="M1266.0,878.0 L1269.0,922.0 L1284.0,962.0 L1328.0,997.0 L1378.0,1027.0"/><path d="M1294.0,876.0 L1298.0,898.0 L1308.0,932.0 L1323.0,977.0 L1358.0,1012.0 L1378.0,1027.0"/><path d="M1482.0,734.0 L1582.0,778.0 L1641.0,828.0 L1676.0,878.0"/><path d="M1676.0,878.0 L1766.0,977.0 L1837.0,1055.0 L1919.0,1141.0 L1961.0,1186.0 L1993.0,1216.0 L2016.0,1226.0 L2035.0,1256.0 L2043.0,1290.0"/><path d="M1676.0,878.0 L1636.0,912.0 L1622.0,947.0 L1597.0,997.0 L1572.0,1024.0"/><path d="M1378.0,1027.0 L1408.0,1019.0 L1448.0,1004.0 L1527.0,1007.0 L1572.0,1024.0 L1607.0,1042.0 L1681.0,1096.0 L1731.0,1156.0 L1766.0,1206.0"/><path d="M1767.0,1196.0 L1839.0,1270.0 L1924.0,1360.0 L1966.0,1397.0"/><path d="M1700.0,1221.0 L1770.0,1198.0"/><path d="M1378.0,1027.0 L1418.0,1042.0 L1477.0,1096.0 L1502.0,1126.0 L1537.0,1186.0 L1557.0,1216.0 L1612.0,1270.0 L1676.0,1325.0"/><path d="M1378.0,1027.0 L1360.0,1034.0 L1347.0,1054.0 L1325.0,1084.0 L1302.0,1149.0 L1287.0,1233.0 L1282.0,1305.0"/><path d="M1281.0,1314.0 L1339.0,1332.0 L1414.0,1349.0 L1429.0,1351.0 L1488.0,1334.0 L1551.0,1302.0 L1608.0,1267.0 L1662.0,1240.0 L1706.0,1230.0 L1766.0,1203.0"/><path d="M1272.0,1318.0 L1188.0,1357.0 L1153.0,1397.0 L1123.0,1440.0 L1081.0,1513.0"/><path d="M1414.0,1354.0 L1401.0,1389.0 L1364.0,1451.0 L1339.0,1488.0 L1327.0,1513.0 L1322.0,1563.0"/><path d="M1436.0,1354.0 L1488.0,1414.0 L1521.0,1434.0 L1563.0,1483.0 L1593.0,1531.0 L1613.0,1565.0 L1682.0,1637.0"/><path d="M699.0,1225.0 L778.0,1215.0 L823.0,1217.0"/><path d="M855.0,1307.0 L858.0,1349.0 L868.0,1394.0 L898.0,1448.0 L927.0,1518.0 L972.0,1578.0 L1017.0,1612.0 L1037.0,1627.0"/><path d="M791.0,1468.0 L808.0,1518.0 L858.0,1563.0 L922.0,1583.0 L947.0,1592.0 L977.0,1610.0 L1017.0,1602.0 L1037.0,1627.0"/><path d="M900.0,1456.0 L982.0,1476.0 L1081.0,1513.0 L1161.0,1555.0 L1240.0,1560.0 L1322.0,1563.0 L1464.0,1553.0 L1593.0,1533.0 L1632.0,1521.0 L1720.0,1513.0 L1817.0,1452.0"/><path d="M644.0,1538.0 L668.0,1568.0 L693.0,1602.0 L733.0,1660.0"/><path d="M699.0,1612.0 L808.0,1756.0 L947.0,1876.0 L977.0,1876.0 L984.0,1856.0 L994.0,1796.0 L997.0,1717.0 L1017.0,1722.0 L1047.0,1737.0 L1071.0,1747.0 L1096.0,1742.0 L1116.0,1727.0 L1119.0,1712.0"/><path d="M1037.0,1627.0 L1062.0,1647.0 L1096.0,1677.0 L1116.0,1702.0 L1119.0,1712.0"/><path d="M1119.0,1714.0 L1121.0,1710.0 L1222.0,1698.0 L1331.0,1665.0 L1389.0,1642.0 L1488.0,1595.0 L1560.0,1563.0 L1613.0,1565.0"/><path d="M1672.0,1328.0 L1817.0,1446.0 L1922.0,1365.0"/><path d="M1162.0,1714.0 L1302.0,1846.0"/><path d="M1924.0,1365.0 L1966.0,1397.0"/><path d="M1966.0,1395.0 L1986.0,1377.0 L2000.0,1358.0 L2016.0,1350.0 L2035.0,1325.0 L2044.0,1296.0 L2040.0,1269.0 L2043.0,1258.0 L2081.0,1240.0 L2135.0,1213.0 L2172.0,1188.0 L2194.0,1162.0 L2215.0,1137.0 L2234.0,1127.0 L2256.0,1124.0 L2283.0,1129.0 L2318.0,1151.0 L2347.0,1167.0"/><path d="M1294.0,788.0 L1338.0,796.0 L1403.0,818.0 L1438.0,858.0 L1462.0,917.0 L1458.0,962.0 L1448.0,1002.0"/><path d="M1403.0,818.0 L1482.0,736.0"/><path d="M766.0,613.0 L885.0,714.0 L945.0,818.0 L1060.0,947.0"/><path d="M876.0,715.0 L939.0,811.0 L1012.0,897.0 L1054.0,960.0 L1069.0,975.0 L1118.0,998.0"/></g>
<g fill="none" stroke="#a4a2d4" stroke-width="6.6" stroke-dasharray="15 14" stroke-linejoin="round"><path d="M597.0,829.0 L547.0,838.0 L528.0,853.0 L528.0,883.0 L547.0,898.0 L580.0,917.0 L604.0,945.0"/><path d="M597.0,829.0 L656.0,840.0 L766.0,853.0 L830.0,878.0 L865.0,937.0 L895.0,1012.0"/><path d="M517.0,922.0 L602.0,942.0"/><path d="M517.0,925.0 L532.0,977.0 L547.0,1047.0 L577.0,1101.0 L622.0,1131.0 L671.0,1171.0 L684.0,1206.0 L699.0,1228.0 L756.0,1216.0 L826.0,1216.0"/><path d="M942.0,1094.0 L952.0,1104.0 L1039.0,1156.0 L1069.0,1171.0 L1128.0,1203.0 L1153.0,1223.0 L1178.0,1253.0 L1210.0,1278.0 L1277.0,1308.0"/><path d="M1266.0,878.0 L1269.0,922.0 L1284.0,962.0 L1328.0,997.0 L1378.0,1027.0"/><path d="M1378.0,1027.0 L1418.0,1042.0 L1477.0,1096.0 L1502.0,1126.0 L1537.0,1186.0 L1557.0,1216.0 L1612.0,1270.0 L1676.0,1325.0"/><path d="M1378.0,1027.0 L1360.0,1034.0 L1347.0,1054.0 L1325.0,1084.0 L1302.0,1149.0 L1287.0,1233.0 L1282.0,1305.0"/><path d="M699.0,1225.0 L778.0,1215.0 L823.0,1217.0"/><path d="M855.0,1307.0 L858.0,1349.0 L868.0,1394.0 L898.0,1448.0 L927.0,1518.0 L972.0,1578.0 L1017.0,1612.0 L1037.0,1627.0"/><path d="M791.0,1468.0 L808.0,1518.0 L858.0,1563.0 L922.0,1583.0 L947.0,1592.0 L977.0,1610.0 L1017.0,1602.0 L1037.0,1627.0"/><path d="M644.0,1538.0 L668.0,1568.0 L693.0,1602.0 L733.0,1660.0"/><path d="M699.0,1612.0 L808.0,1756.0 L947.0,1876.0 L977.0,1876.0 L984.0,1856.0 L994.0,1796.0 L997.0,1717.0 L1017.0,1722.0 L1047.0,1737.0 L1071.0,1747.0 L1096.0,1742.0 L1116.0,1727.0 L1119.0,1712.0"/><path d="M1037.0,1627.0 L1062.0,1647.0 L1096.0,1677.0 L1116.0,1702.0 L1119.0,1712.0"/><path d="M1672.0,1328.0 L1817.0,1446.0 L1922.0,1365.0"/><path d="M1924.0,1365.0 L1966.0,1397.0"/><path d="M1966.0,1395.0 L1986.0,1377.0 L2000.0,1358.0 L2016.0,1350.0 L2035.0,1325.0 L2044.0,1296.0 L2040.0,1269.0 L2043.0,1258.0 L2081.0,1240.0 L2135.0,1213.0 L2172.0,1188.0 L2194.0,1162.0 L2215.0,1137.0 L2234.0,1127.0 L2256.0,1124.0 L2283.0,1129.0 L2318.0,1151.0 L2347.0,1167.0"/></g>
<path d="M156.6,680.4 L289.1,673.2 L686.6,548.3 L780.0,535.7 L929.0,515.8 L1167.6,447.9 L1272.6,392.6 L2087.6,1163.7 L2307.0,1058.0 L2356.0,1058.0 L2472.0,1145.0" fill="none" stroke="#8fc8c2" stroke-width="1.3" stroke-linejoin="round"/>
<path d="M156.6,680.4 L398.0,986.7 L448.9,1058.1 L468.0,1081.8 L512.5,1170.5 L557.0,1269.5 L581.4,1333.0 L598.1,1405.9 L608.1,1455.7 L618.2,1496.2 L633.2,1539.0 L658.5,1582.5 L673.4,1622.2 L688.3,1642.0 L897.5,1885.7 L997.0,2015.0" fill="none" stroke="#8fc8c2" stroke-width="1.3" stroke-linejoin="round"/>
<path d="M156.8,683.9 L289.9,676.6 L687.5,551.7 L780.5,539.2 L929.8,519.2 L1168.8,451.2 L1274.2,395.7" fill="none" stroke="#8fc8c2" stroke-width="1.3" stroke-linejoin="round"/>
<path d="M1204.0,674.8 L1247.1,790.8" fill="none" stroke="#a4a2d4" stroke-width="7" stroke-dasharray="17 15"/>
<path d="M1268.7,877.6 L1271.2,922.4" fill="none" stroke="#a4a2d4" stroke-width="7" stroke-dasharray="17 15"/>
<path d="M1295.0,1324.2 L1314.9,1364.0 L1324.8,1403.7" fill="none" stroke="#a4a2d4" stroke-width="7" stroke-dasharray="17 15"/>
<path d="M2397.1,1214.5 L2484.1,1284.1" fill="none" stroke="#a4a2d4" stroke-width="7" stroke-dasharray="17 15"/>
<g fill="none" stroke="#86cdc6" stroke-width="1.3"><circle cx="1748" cy="1300" r="6"/><circle cx="1748" cy="1300" r="12"/><circle cx="1748" cy="1300" r="18"/><circle cx="1748" cy="1300" r="24"/></g>
<circle cx="1748" cy="1300" r="31" fill="none" stroke="#a39fd3" stroke-width="6" stroke-dasharray="12 9"/>
<circle cx="874.7" cy="1222.2" r="16" fill="#fff"/><circle cx="874.7" cy="1222.2" r="12" fill="#a39fd3"/>
<circle cx="605.1" cy="1550.2" r="7.5" fill="none" stroke="#86cdc6" stroke-width="1.3"/><circle cx="605.1" cy="1550.2" r="3.5" fill="none" stroke="#86cdc6" stroke-width="1.3"/>
<circle cx="653.5" cy="1531.5" r="12" fill="#e3f1f3" stroke="#fff" stroke-width="3"/>
<circle cx="791" cy="1152" r="12" fill="#fff" stroke="#b9dcdc" stroke-width="1.5"/>
<circle cx="1056" cy="1545" r="12" fill="#fff" stroke="#b9dcdc" stroke-width="1.5"/>
<circle cx="641" cy="1071" r="27" fill="none" stroke="#8fc8c2" stroke-width="1.2" stroke-dasharray="3 3"/>
<circle cx="874.7" cy="1222.2" r="16.5" fill="none" stroke="#8fc8c2" stroke-width="1.2"/>
<path d="M830,1160 L836,1146 L848,1142 L858,1150 L858,1162" fill="none" stroke="#8fc8c2" stroke-width="1.2"/>
<rect x="532.5" y="1451" width="82" height="82" fill="#a4a2d4"/>
<text x="573.5" y="1521" font-family="Liberation Sans" font-weight="bold" font-size="74" fill="#fff" text-anchor="middle" textLength="52" lengthAdjust="spacingAndGlyphs">1</text>
<rect x="983" y="1627.3" width="82" height="82" fill="#a4a2d4"/>
<text x="1024" y="1697.3" font-family="Liberation Sans" font-weight="bold" font-size="74" fill="#fff" text-anchor="middle" textLength="52" lengthAdjust="spacingAndGlyphs">2</text>
<rect x="751.5" y="1386.5" width="82" height="82" fill="#a4a2d4"/>
<text x="792.5" y="1456.5" font-family="Liberation Sans" font-weight="bold" font-size="74" fill="#fff" text-anchor="middle" textLength="52" lengthAdjust="spacingAndGlyphs">3</text>
<rect x="785.7" y="1224" width="82" height="82" fill="#a4a2d4"/>
<text x="826.7" y="1294" font-family="Liberation Sans" font-weight="bold" font-size="74" fill="#fff" text-anchor="middle" textLength="52" lengthAdjust="spacingAndGlyphs">4</text>
<rect x="563.1" y="983" width="82" height="82" fill="#a4a2d4"/>
<text x="604.1" y="1053" font-family="Liberation Sans" font-weight="bold" font-size="74" fill="#fff" text-anchor="middle" textLength="52" lengthAdjust="spacingAndGlyphs">5</text>
<rect x="870.2" y="1010.3" width="82" height="82" fill="#a4a2d4"/>
<text x="911.2" y="1080.3" font-family="Liberation Sans" font-weight="bold" font-size="74" fill="#fff" text-anchor="middle" textLength="52" lengthAdjust="spacingAndGlyphs">6</text>
<rect x="1245.3" y="1403.7" width="82" height="82" fill="#a4a2d4"/>
<text x="1286.3" y="1473.7" font-family="Liberation Sans" font-weight="bold" font-size="74" fill="#fff" text-anchor="middle" textLength="52" lengthAdjust="spacingAndGlyphs">7</text>
<rect x="1214" y="794.5" width="82" height="82" fill="#a4a2d4"/>
<text x="1255" y="864.5" font-family="Liberation Sans" font-weight="bold" font-size="74" fill="#fff" text-anchor="middle" textLength="52" lengthAdjust="spacingAndGlyphs">8</text>
<rect x="1756" y="1211" width="82" height="82" fill="#a4a2d4"/>
<text x="1797" y="1281" font-family="Liberation Sans" font-weight="bold" font-size="74" fill="#fff" text-anchor="middle" textLength="52" lengthAdjust="spacingAndGlyphs">9</text>
<rect x="2349" y="1132" width="82" height="82" fill="#a4a2d4"/>
<text x="2390" y="1193" font-family="Liberation Sans" font-weight="bold" font-size="54" fill="#fff" text-anchor="middle" textLength="76" lengthAdjust="spacingAndGlyphs">10</text>
<circle cx="838.9" cy="1173.3" r="26" fill="#a4a2d4"/>
<text x="838.9" y="1183.3" font-family="Liberation Sans" font-weight="bold" font-size="38" fill="#fff" text-anchor="middle" textLength="27" lengthAdjust="spacingAndGlyphs">a</text>
<circle cx="741.3" cy="1151.9" r="26" fill="#a4a2d4"/>
<text x="741.3" y="1163.9" font-family="Liberation Sans" font-weight="bold" font-size="38" fill="#fff" text-anchor="middle" textLength="29" lengthAdjust="spacingAndGlyphs">b</text>
<circle cx="661.5" cy="1113.7" r="26" fill="#a4a2d4"/>
<text x="661.5" y="1123.7" font-family="Liberation Sans" font-weight="bold" font-size="38" fill="#fff" text-anchor="middle" textLength="25" lengthAdjust="spacingAndGlyphs">c</text>
<circle cx="1082.4" cy="1720.7" r="26" fill="#a4a2d4"/>
<text x="1082.4" y="1732.7" font-family="Liberation Sans" font-weight="bold" font-size="38" fill="#fff" text-anchor="middle" textLength="29" lengthAdjust="spacingAndGlyphs">d</text>
<circle cx="1013.3" cy="1526.5" r="26" fill="#a4a2d4"/>
<text x="1013.3" y="1536.5" font-family="Liberation Sans" font-weight="bold" font-size="38" fill="#fff" text-anchor="middle" textLength="27" lengthAdjust="spacingAndGlyphs">e</text>
<circle cx="1759.5" cy="1361" r="26" fill="#a4a2d4"/>
<text x="1759.5" y="1374" font-family="Liberation Sans" font-weight="bold" font-size="38" fill="#fff" text-anchor="middle" textLength="13" lengthAdjust="spacingAndGlyphs">f</text>
<circle cx="1370.6" cy="1770.4" r="26" fill="#a4a2d4"/>
<text x="1370.6" y="1778.4" font-family="Liberation Sans" font-weight="bold" font-size="38" fill="#fff" text-anchor="middle" textLength="26" lengthAdjust="spacingAndGlyphs">g</text>
<text x="1729" y="182.8" font-family="Liberation Sans" font-weight="bold" font-size="33" fill="#4c4462" textLength="21" lengthAdjust="spacingAndGlyphs">a</text>
<text x="1797" y="182.8" font-family="Liberation Sans" font-size="33" fill="#4c4462" textLength="238.5" lengthAdjust="spacingAndGlyphs">Barokk pavilon</text>
<text x="1729" y="242.8" font-family="Liberation Sans" font-weight="bold" font-size="33" fill="#4c4462" textLength="22" lengthAdjust="spacingAndGlyphs">b</text>
<text x="1797" y="242.8" font-family="Liberation Sans" font-size="33" fill="#4c4462" textLength="359.6" lengthAdjust="spacingAndGlyphs">Szent Benedek- grotta</text>
<text x="1729" y="302.8" font-family="Liberation Sans" font-weight="bold" font-size="33" fill="#4c4462" textLength="21" lengthAdjust="spacingAndGlyphs">c</text>
<text x="1797" y="302.8" font-family="Liberation Sans" font-size="33" fill="#4c4462" textLength="114.3" lengthAdjust="spacingAndGlyphs">Kerti tó</text>
<text x="1729" y="362.8" font-family="Liberation Sans" font-weight="bold" font-size="33" fill="#4c4462" textLength="22" lengthAdjust="spacingAndGlyphs">d</text>
<text x="1797" y="362.8" font-family="Liberation Sans" font-size="33" fill="#4c4462" textLength="167" lengthAdjust="spacingAndGlyphs">Kilátópont</text>
<text x="1729" y="422.8" font-family="Liberation Sans" font-weight="bold" font-size="33" fill="#4c4462" textLength="21" lengthAdjust="spacingAndGlyphs">e</text>
<text x="1797" y="422.8" font-family="Liberation Sans" font-size="33" fill="#4c4462" textLength="291.3" lengthAdjust="spacingAndGlyphs">Szűz Mária-grotta</text>
<text x="1729" y="482.8" font-family="Liberation Sans" font-weight="bold" font-size="33" fill="#4c4462" textLength="12" lengthAdjust="spacingAndGlyphs">f</text>
<text x="1797" y="482.8" font-family="Liberation Sans" font-size="33" fill="#4c4462" textLength="159.3" lengthAdjust="spacingAndGlyphs">Labirintus</text>
<text x="1729" y="542.8" font-family="Liberation Sans" font-weight="bold" font-size="33" fill="#4c4462" textLength="21" lengthAdjust="spacingAndGlyphs">g</text>
<text x="1797" y="542.8" font-family="Liberation Sans" font-size="33" fill="#4c4462" textLength="467.7" lengthAdjust="spacingAndGlyphs">Levendula, Gyógynövénykert</text>
<text x="1729" y="1827.0" font-family="Liberation Sans" font-weight="bold" font-size="28" fill="#4c4462">1</text>
<text x="1797" y="1827.0" font-family="Liberation Sans" font-size="33" fill="#4c4462" textLength="338.5" lengthAdjust="spacingAndGlyphs">Arbor fuit Benedictus</text>
<text x="1729" y="1887.0" font-family="Liberation Sans" font-weight="bold" font-size="28" fill="#4c4462">2</text>
<text x="1797" y="1887.0" font-family="Liberation Sans" font-size="33" fill="#4c4462" textLength="218.8" lengthAdjust="spacingAndGlyphs">Hortus mundi</text>
<text x="1729" y="1946.9" font-family="Liberation Sans" font-weight="bold" font-size="28" fill="#4c4462">3</text>
<text x="1797" y="1946.9" font-family="Liberation Sans" font-size="33" fill="#4c4462" textLength="345.7" lengthAdjust="spacingAndGlyphs">A hiábavalóság terhei</text>
<text x="1729" y="2006.8" font-family="Liberation Sans" font-weight="bold" font-size="28" fill="#4c4462">4</text>
<text x="1797" y="2006.8" font-family="Liberation Sans" font-size="33" fill="#4c4462" textLength="372.7" lengthAdjust="spacingAndGlyphs">A ma és a holnap kertje</text>
<text x="1729" y="2066.8" font-family="Liberation Sans" font-weight="bold" font-size="28" fill="#4c4462">5</text>
<text x="1797" y="2066.8" font-family="Liberation Sans" font-size="33" fill="#4c4462" textLength="172.2" lengthAdjust="spacingAndGlyphs">Kert-iskola</text>
<text x="1729" y="2126.8" font-family="Liberation Sans" font-weight="bold" font-size="28" fill="#4c4462">6</text>
<text x="1797" y="2126.8" font-family="Liberation Sans" font-size="33" fill="#4c4462" textLength="182" lengthAdjust="spacingAndGlyphs">Paraklimax</text>
<text x="1729" y="2186.7" font-family="Liberation Sans" font-weight="bold" font-size="28" fill="#4c4462">7</text>
<text x="1797" y="2186.7" font-family="Liberation Sans" font-size="33" fill="#4c4462" textLength="192.7" lengthAdjust="spacingAndGlyphs">Életparancs</text>
<text x="1729" y="2246.7" font-family="Liberation Sans" font-weight="bold" font-size="28" fill="#4c4462">8</text>
<text x="1797" y="2246.7" font-family="Liberation Sans" font-size="33" fill="#4c4462" textLength="280.4" lengthAdjust="spacingAndGlyphs">Nos omnes unum</text>
<text x="1729" y="2306.6" font-family="Liberation Sans" font-weight="bold" font-size="28" fill="#4c4462">9</text>
<text x="1797" y="2306.6" font-family="Liberation Sans" font-size="33" fill="#4c4462" textLength="253.7" lengthAdjust="spacingAndGlyphs">Labirintus-járás</text>
<text x="1729" y="2366.6" font-family="Liberation Sans" font-weight="bold" font-size="28" fill="#4c4462">10</text>
<text x="1797" y="2366.6" font-family="Liberation Sans" font-size="33" fill="#4c4462" textLength="101.4" lengthAdjust="spacingAndGlyphs">Új föld</text>
</svg></body></html>
